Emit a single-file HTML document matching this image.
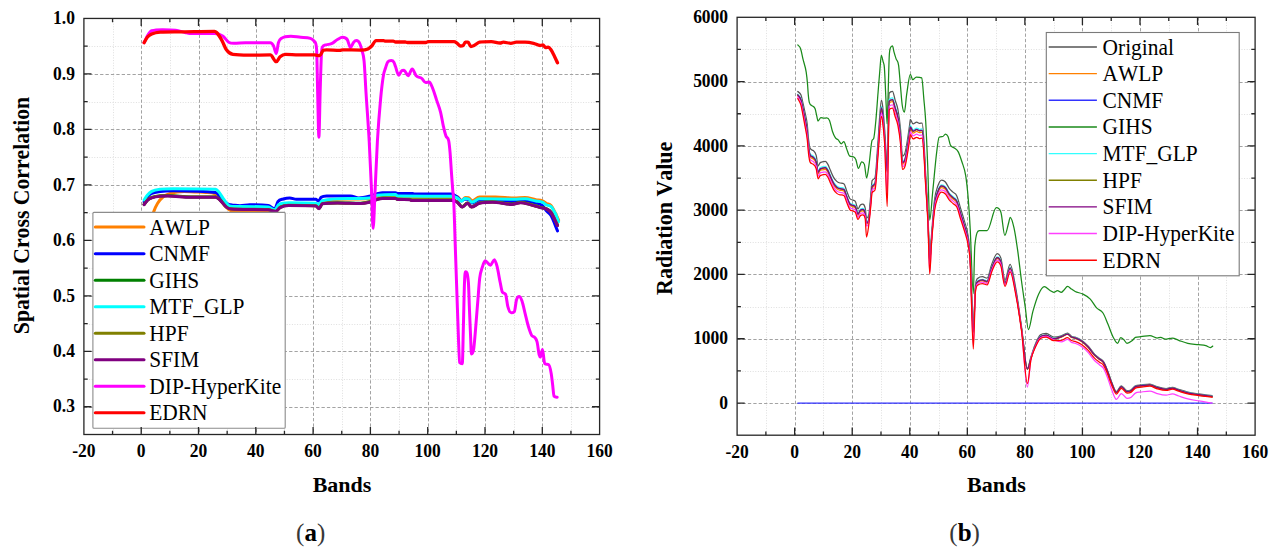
<!DOCTYPE html><html><head><meta charset="utf-8"><title>Spectral curves</title><style>html,body{margin:0;padding:0;background:#fff;}body{width:1274px;height:554px;overflow:hidden;}svg{display:block;}</style></head><body>
<svg width="1274" height="554" viewBox="0 0 1274 554" font-family="'Liberation Serif', serif" fill="#000" style="font-kerning:none">
<rect width="1274" height="554" fill="#fff"/>
<g id="left">
<line x1="113.5" y1="18.45" x2="113.5" y2="434.5" stroke="#dfdfdf" stroke-width="1" stroke-dasharray="1 1.6"/>
<line x1="170.5" y1="18.45" x2="170.5" y2="434.5" stroke="#dfdfdf" stroke-width="1" stroke-dasharray="1 1.6"/>
<line x1="227.5" y1="18.45" x2="227.5" y2="434.5" stroke="#dfdfdf" stroke-width="1" stroke-dasharray="1 1.6"/>
<line x1="284.5" y1="18.45" x2="284.5" y2="434.5" stroke="#dfdfdf" stroke-width="1" stroke-dasharray="1 1.6"/>
<line x1="342.5" y1="18.45" x2="342.5" y2="434.5" stroke="#dfdfdf" stroke-width="1" stroke-dasharray="1 1.6"/>
<line x1="399.5" y1="18.45" x2="399.5" y2="434.5" stroke="#dfdfdf" stroke-width="1" stroke-dasharray="1 1.6"/>
<line x1="456.5" y1="18.45" x2="456.5" y2="434.5" stroke="#dfdfdf" stroke-width="1" stroke-dasharray="1 1.6"/>
<line x1="514.5" y1="18.45" x2="514.5" y2="434.5" stroke="#dfdfdf" stroke-width="1" stroke-dasharray="1 1.6"/>
<line x1="571.5" y1="18.45" x2="571.5" y2="434.5" stroke="#dfdfdf" stroke-width="1" stroke-dasharray="1 1.6"/>
<line x1="83.9" y1="379.5" x2="599.6" y2="379.5" stroke="#dfdfdf" stroke-width="1" stroke-dasharray="1 1.6"/>
<line x1="83.9" y1="324.5" x2="599.6" y2="324.5" stroke="#dfdfdf" stroke-width="1" stroke-dasharray="1 1.6"/>
<line x1="83.9" y1="268.5" x2="599.6" y2="268.5" stroke="#dfdfdf" stroke-width="1" stroke-dasharray="1 1.6"/>
<line x1="83.9" y1="213.5" x2="599.6" y2="213.5" stroke="#dfdfdf" stroke-width="1" stroke-dasharray="1 1.6"/>
<line x1="83.9" y1="157.5" x2="599.6" y2="157.5" stroke="#dfdfdf" stroke-width="1" stroke-dasharray="1 1.6"/>
<line x1="83.9" y1="102.5" x2="599.6" y2="102.5" stroke="#dfdfdf" stroke-width="1" stroke-dasharray="1 1.6"/>
<line x1="83.9" y1="46.5" x2="599.6" y2="46.5" stroke="#dfdfdf" stroke-width="1" stroke-dasharray="1 1.6"/>
<line x1="141.5" y1="18.45" x2="141.5" y2="434.5" stroke="#a3a3a3" stroke-width="1" stroke-dasharray="3.3 2.1"/>
<line x1="199.5" y1="18.45" x2="199.5" y2="434.5" stroke="#a3a3a3" stroke-width="1" stroke-dasharray="3.3 2.1"/>
<line x1="256.5" y1="18.45" x2="256.5" y2="434.5" stroke="#a3a3a3" stroke-width="1" stroke-dasharray="3.3 2.1"/>
<line x1="313.5" y1="18.45" x2="313.5" y2="434.5" stroke="#a3a3a3" stroke-width="1" stroke-dasharray="3.3 2.1"/>
<line x1="370.5" y1="18.45" x2="370.5" y2="434.5" stroke="#a3a3a3" stroke-width="1" stroke-dasharray="3.3 2.1"/>
<line x1="428.5" y1="18.45" x2="428.5" y2="434.5" stroke="#a3a3a3" stroke-width="1" stroke-dasharray="3.3 2.1"/>
<line x1="485.5" y1="18.45" x2="485.5" y2="434.5" stroke="#a3a3a3" stroke-width="1" stroke-dasharray="3.3 2.1"/>
<line x1="542.5" y1="18.45" x2="542.5" y2="434.5" stroke="#a3a3a3" stroke-width="1" stroke-dasharray="3.3 2.1"/>
<line x1="83.9" y1="407.5" x2="599.6" y2="407.5" stroke="#a3a3a3" stroke-width="1" stroke-dasharray="3.3 2.1"/>
<line x1="83.9" y1="351.5" x2="599.6" y2="351.5" stroke="#a3a3a3" stroke-width="1" stroke-dasharray="3.3 2.1"/>
<line x1="83.9" y1="296.5" x2="599.6" y2="296.5" stroke="#a3a3a3" stroke-width="1" stroke-dasharray="3.3 2.1"/>
<line x1="83.9" y1="240.5" x2="599.6" y2="240.5" stroke="#a3a3a3" stroke-width="1" stroke-dasharray="3.3 2.1"/>
<line x1="83.9" y1="185.5" x2="599.6" y2="185.5" stroke="#a3a3a3" stroke-width="1" stroke-dasharray="3.3 2.1"/>
<line x1="83.9" y1="129.5" x2="599.6" y2="129.5" stroke="#a3a3a3" stroke-width="1" stroke-dasharray="3.3 2.1"/>
<line x1="83.9" y1="74.5" x2="599.6" y2="74.5" stroke="#a3a3a3" stroke-width="1" stroke-dasharray="3.3 2.1"/>
<path d="M146.5 240C147.83 234.67 149.17 229.25 150.5 224C151.53 219.93 152.57 215.13 153.6 212C154.9 208.07 156.2 205.68 157.5 203.5C159.5 200.15 161.5 198.12 163.5 196.5C166.07 194.42 168.63 193.74 171.2 193C175.53 191.75 179.87 191.4 184.2 191.4C191.4 191.4 198.6 192.1 205.8 192.5C208.7 192.66 211.6 192.51 214.5 193.5C216.17 194.07 217.83 196.04 219.5 198C221.33 200.16 223.17 203.94 225 206C226.9 208.13 228.8 209.95 230.7 210.5C233.8 211.39 236.9 211.33 240 211.4C249.4 211.6 258.8 211.46 268.2 211.8C270.37 211.88 272.53 212.5 274.7 212.5C276.5 212.5 278.3 207.71 280.1 206.5C282.97 204.57 285.83 204.5 288.7 204.5C297.73 204.5 306.77 204.5 315.8 205C316.9 205.06 318 206.5 319.1 206.5C320.17 206.5 321.23 201.79 322.3 201.5C331.53 199.01 340.77 199.08 350 199C356.5 198.95 363 199 369.5 198.5C372.03 198.31 374.57 196.21 377.1 196C383.23 195.5 389.37 195.5 395.5 195.5C396.23 195.5 396.97 196.99 397.7 197C415.73 197.2 433.77 197.2 451.8 197.2C453.6 197.2 455.4 196.8 457.2 196.8C458.67 196.8 460.13 200.4 461.6 200.4C462.87 200.4 464.13 197.4 465.4 197.4C466.5 197.4 467.6 197.4 468.7 197.7C469.77 197.99 470.83 200.8 471.9 200.8C474.43 200.8 476.97 197 479.5 197C484.9 197 490.3 197 495.7 197C501.87 197 508.03 198 514.2 198C517.8 198 521.4 197.5 525 197.5C528.6 197.5 532.2 199.03 535.8 199.7C537.97 200.1 540.13 199.94 542.3 200.8C543.73 201.37 545.17 202.72 546.6 203.5C548.07 204.29 549.53 203.89 551 205.5C552.43 207.08 553.87 210.23 555.3 213C556.4 215.13 557.5 217.67 558.6 220" fill="none" stroke="#ff8000" stroke-width="3.0" stroke-linejoin="round" stroke-linecap="round"/>
<path d="M144.1 202C145.17 200.33 146.23 198.26 147.3 197C148.77 195.27 150.23 194.25 151.7 193.5C154.57 192.03 157.43 191.91 160.3 191.5C164.63 190.88 168.97 190.8 173.3 190.8C187.4 190.8 201.5 190.8 215.6 192.5C216.67 192.63 217.73 193.96 218.8 195C220.23 196.39 221.67 198.58 223.1 200C224.93 201.82 226.77 203.83 228.6 204.5C229.67 204.89 230.73 204.81 231.8 204.9C234.53 205.14 237.27 205.7 240 205.7C243.23 205.7 246.47 204.7 249.7 204.7C255.87 204.7 262.03 204.7 268.2 205.5C270.37 205.78 272.53 209 274.7 209C275.77 209 276.83 203.18 277.9 201.7C279.7 199.2 281.5 199.6 283.3 199C285.47 198.28 287.63 197.9 289.8 197.9C291.97 197.9 294.13 199.3 296.3 199.3C302.8 199.3 309.3 199.3 315.8 199.3C316.7 199.3 317.6 201.1 318.5 201.1C319.4 201.1 320.3 197.95 321.2 197.3C323 196 324.8 196 326.6 196C334.57 196 342.53 196 350.5 196C353.23 196 355.97 197.9 358.7 197.9C362.3 197.9 365.9 197.04 369.5 196.2C372.4 195.52 375.3 194.19 378.2 193.5C379.63 193.16 381.07 192.8 382.5 192.8C386.83 192.8 391.17 192.8 395.5 192.8C396.23 192.8 396.97 193.5 397.7 193.5C402.73 193.5 407.77 193.5 412.8 193.5C413.53 193.5 414.27 194.1 415 194.1C427.27 194.1 439.53 193.9 451.8 193.9C453.6 193.9 455.4 195.67 457.2 197C458.67 198.09 460.13 201 461.6 201C462.67 201 463.73 199 464.8 199C466.1 199 467.4 199 468.7 199.5C469.77 199.91 470.83 203 471.9 203C474.43 203 476.97 200 479.5 200C484.9 200 490.3 200.27 495.7 200.5C501.87 200.76 508.03 201.5 514.2 201.5C517.8 201.5 521.4 201 525 201C528.6 201 532.2 201.97 535.8 203C537.97 203.62 540.13 203.7 542.3 205.5C543.73 206.69 545.17 209.35 546.6 211C548.07 212.69 549.53 213.01 551 215.5C553.17 219.17 555.33 225.77 557.5 230.9" fill="none" stroke="#0000ff" stroke-width="3.0" stroke-linejoin="round" stroke-linecap="round"/>
<path d="M144.1 204.3C145.17 202.9 146.23 201.12 147.3 200.1C148.77 198.7 150.23 198.08 151.7 197.5C154.57 196.37 157.43 196.03 160.3 195.8C162.83 195.6 165.37 195.6 167.9 195.6C175.5 195.6 183.1 196.9 190.7 196.9C199 196.9 207.3 196.9 215.6 196.9C217.03 196.9 218.47 198.37 219.9 199.6C222.07 201.46 224.23 205.04 226.4 206.7C227.83 207.8 229.27 208.49 230.7 208.6C237.13 209.1 243.57 209.08 250 209.1C256.07 209.12 262.13 209.1 268.2 209.4C270.7 209.52 273.2 211 275.7 211C277.17 211 278.63 208.01 280.1 207.2C282.97 205.61 285.83 205.1 288.7 205.1C297.73 205.1 306.77 205.1 315.8 205.6C316.9 205.66 318 208.3 319.1 208.3C320.17 208.3 321.23 203.55 322.3 203.4C327.37 202.7 332.43 202.7 337.5 202.7C345.27 202.7 353.03 203.2 360.8 203.2C363.7 203.2 366.6 202.55 369.5 201.8C372.03 201.15 374.57 199.81 377.1 199.1C378.9 198.6 380.7 198 382.5 198C386.83 198 391.17 198 395.5 198.2C396.23 198.23 396.97 199.07 397.7 199.1C401.67 199.25 405.63 199.17 409.6 199.3C410.3 199.32 411 200 411.7 200C425.07 200 438.43 200 451.8 200C453.6 200 455.4 200.62 457.2 201.8C458.87 202.89 460.53 206.7 462.2 206.7C464 206.7 465.8 202.9 467.6 202.9C468.87 202.9 470.13 206.7 471.4 206.7C474.1 206.7 476.8 203.59 479.5 202.9C483.83 201.8 488.17 201.8 492.5 201.8C499 201.8 505.5 204 512 204C514.9 204 517.8 202.3 520.7 202.3C523.57 202.3 526.43 203.29 529.3 204C532.9 204.89 536.5 206.22 540.1 207.2C542.27 207.79 544.43 207.72 546.6 208.8C548.07 209.53 549.53 210.08 551 212.1C553.17 215.08 555.33 220.77 557.5 225.1" fill="none" stroke="#008000" stroke-width="3.0" stroke-linejoin="round" stroke-linecap="round"/>
<path d="M144.1 200C145.17 198.4 146.23 196.46 147.3 195.2C148.77 193.47 150.23 192.22 151.7 191.4C154.57 189.8 157.43 189.53 160.3 189.2C164.63 188.7 168.97 188.7 173.3 188.7C187.4 188.7 201.5 188.7 215.6 189.2C216.67 189.24 217.73 190.64 218.8 191.9C220.23 193.59 221.67 196.39 223.1 198.4C224.93 200.97 226.77 204.22 228.6 205.5C230.03 206.5 231.47 206.5 232.9 206.5C235.27 206.5 237.63 206.5 240 206.5C249.4 206.5 258.8 206.5 268.2 207.1C270.37 207.24 272.53 209.8 274.7 209.8C276.13 209.8 277.57 205.15 279 204.4C282.23 202.7 285.47 202.7 288.7 202.7C297.73 202.7 306.77 202.7 315.8 203.3C316.7 203.36 317.6 204.4 318.5 204.4C319.77 204.4 321.03 200.9 322.3 200.6C331.53 198.41 340.77 198.49 350 198.4C356.5 198.34 363 198.4 369.5 197.9C372.03 197.71 374.57 195.45 377.1 195.2C383.23 194.6 389.37 194.6 395.5 194.6C396.23 194.6 396.97 195.99 397.7 196C415.73 196.18 433.77 196.12 451.8 196.2C453.6 196.21 455.4 196.86 457.2 197.8C458.67 198.57 460.13 201.1 461.6 201.1C462.67 201.1 463.73 198.4 464.8 198.4C466.1 198.4 467.4 198.4 468.7 199C469.77 199.49 470.83 202.2 471.9 202.2C474.43 202.2 476.97 198.8 479.5 198.8C491.07 198.8 502.63 199.2 514.2 199.2C517.8 199.2 521.4 198.8 525 198.8C528.6 198.8 532.2 200.3 535.8 201C537.97 201.42 540.13 201.29 542.3 202.2C543.73 202.8 545.17 204.34 546.6 205C548.07 205.67 549.53 205.16 551 206.5C552.43 207.81 553.87 210.55 555.3 213.5C556.4 215.76 557.5 218.97 558.6 221.7" fill="none" stroke="#00ffff" stroke-width="3.0" stroke-linejoin="round" stroke-linecap="round"/>
<path d="M144.1 204.5C145.17 203.1 146.23 201.32 147.3 200.3C148.77 198.9 150.23 198.28 151.7 197.7C154.57 196.57 157.43 196.23 160.3 196C162.83 195.8 165.37 195.8 167.9 195.8C175.5 195.8 183.1 197.1 190.7 197.1C199 197.1 207.3 197.1 215.6 197.1C217.03 197.1 218.47 198.57 219.9 199.8C222.07 201.66 224.23 205.24 226.4 206.9C227.83 208 229.27 208.69 230.7 208.8C237.13 209.3 243.57 209.28 250 209.3C256.07 209.32 262.13 209.3 268.2 209.6C270.7 209.72 273.2 211.2 275.7 211.2C277.17 211.2 278.63 208.21 280.1 207.4C282.97 205.81 285.83 205.3 288.7 205.3C297.73 205.3 306.77 205.3 315.8 205.8C316.9 205.86 318 208.5 319.1 208.5C320.17 208.5 321.23 203.75 322.3 203.6C327.37 202.9 332.43 202.9 337.5 202.9C345.27 202.9 353.03 203.4 360.8 203.4C363.7 203.4 366.6 202.75 369.5 202C372.03 201.35 374.57 200.01 377.1 199.3C378.9 198.8 380.7 198.2 382.5 198.2C386.83 198.2 391.17 198.2 395.5 198.4C396.23 198.43 396.97 199.27 397.7 199.3C401.67 199.45 405.63 199.37 409.6 199.5C410.3 199.52 411 200.2 411.7 200.2C425.07 200.2 438.43 200.2 451.8 200.2C453.6 200.2 455.4 200.82 457.2 202C458.87 203.09 460.53 206.9 462.2 206.9C464 206.9 465.8 203.1 467.6 203.1C468.87 203.1 470.13 206.9 471.4 206.9C474.1 206.9 476.8 203.79 479.5 203.1C483.83 202 488.17 202 492.5 202C499 202 505.5 204.2 512 204.2C514.9 204.2 517.8 202.5 520.7 202.5C523.57 202.5 526.43 203.49 529.3 204.2C532.9 205.09 536.5 206.42 540.1 207.4C542.27 207.99 544.43 207.92 546.6 209C548.07 209.73 549.53 210.28 551 212.3C553.17 215.28 555.33 220.97 557.5 225.3" fill="none" stroke="#808000" stroke-width="3.0" stroke-linejoin="round" stroke-linecap="round"/>
<path d="M144.1 204.7C145.17 203.3 146.23 201.52 147.3 200.5C148.77 199.1 150.23 198.48 151.7 197.9C154.57 196.77 157.43 196.43 160.3 196.2C162.83 196 165.37 196 167.9 196C175.5 196 183.1 197.3 190.7 197.3C199 197.3 207.3 197.3 215.6 197.3C217.03 197.3 218.47 198.77 219.9 200C222.07 201.86 224.23 205.44 226.4 207.1C227.83 208.2 229.27 208.89 230.7 209C237.13 209.5 243.57 209.48 250 209.5C256.07 209.52 262.13 209.5 268.2 209.8C270.7 209.92 273.2 211.4 275.7 211.4C277.17 211.4 278.63 208.41 280.1 207.6C282.97 206.01 285.83 205.5 288.7 205.5C297.73 205.5 306.77 205.5 315.8 206C316.9 206.06 318 208.7 319.1 208.7C320.17 208.7 321.23 203.95 322.3 203.8C327.37 203.1 332.43 203.1 337.5 203.1C345.27 203.1 353.03 203.6 360.8 203.6C363.7 203.6 366.6 202.95 369.5 202.2C372.03 201.55 374.57 200.21 377.1 199.5C378.9 199 380.7 198.4 382.5 198.4C386.83 198.4 391.17 198.4 395.5 198.6C396.23 198.63 396.97 199.47 397.7 199.5C401.67 199.65 405.63 199.57 409.6 199.7C410.3 199.72 411 200.4 411.7 200.4C425.07 200.4 438.43 200.4 451.8 200.4C453.6 200.4 455.4 201.02 457.2 202.2C458.87 203.29 460.53 207.1 462.2 207.1C464 207.1 465.8 203.3 467.6 203.3C468.87 203.3 470.13 207.1 471.4 207.1C474.1 207.1 476.8 203.99 479.5 203.3C483.83 202.2 488.17 202.2 492.5 202.2C499 202.2 505.5 204.4 512 204.4C514.9 204.4 517.8 202.7 520.7 202.7C523.57 202.7 526.43 203.69 529.3 204.4C532.9 205.29 536.5 206.62 540.1 207.6C542.27 208.19 544.43 208.12 546.6 209.2C548.07 209.93 549.53 210.48 551 212.5C553.17 215.48 555.33 221.17 557.5 225.5" fill="none" stroke="#800080" stroke-width="3.0" stroke-linejoin="round" stroke-linecap="round"/>
<path d="M144.1 42.7C145.17 40.47 146.23 37.75 147.3 36C148.77 33.6 150.23 31.25 151.7 30.8C155.3 29.7 158.9 29.7 162.5 29.7C166.83 29.7 171.17 29.7 175.5 30.3C178.67 30.74 181.83 31.79 185 32.5C186.53 32.84 188.07 33.5 189.6 33.5C197.9 33.5 206.2 33.5 214.5 33.5C217.37 33.5 220.23 34.19 223.1 36.2C224.93 37.49 226.77 41.08 228.6 42.2C230.4 43.3 232.2 43.3 234 43.3C237.8 43.3 241.6 42.7 245.4 42.7C253.7 42.7 262 42.7 270.3 42.7C271.4 42.7 272.5 43.9 273.6 46C274.5 47.72 275.4 53.6 276.3 53.6C277 53.6 277.7 45.05 278.4 42.7C279.33 39.56 280.27 39.04 281.2 38.4C284.43 36.2 287.67 36.2 290.9 36.2C294.17 36.2 297.43 37.02 300.7 37.3C303.93 37.57 307.17 37.37 310.4 38.4C311.83 38.86 313.27 39.98 314.7 41.7C315.33 42.46 315.97 41.74 316.6 49.2C316.93 53.13 317.27 77.15 317.6 90C318.03 106.71 318.47 137.2 318.9 137.2C319.33 137.2 319.77 104.19 320.2 90C320.6 76.91 321 62.59 321.4 55C321.7 49.31 322 47.7 322.3 47.1C323.4 44.91 324.5 45.11 325.6 44.9C327.77 44.48 329.93 44.33 332.1 43.3C333.9 42.45 335.7 40.54 337.5 39.5C339.13 38.56 340.77 37.3 342.4 37.3C344 37.3 345.6 37.3 347.2 39.5C348.3 41.01 349.4 47.6 350.5 47.6C351.5 47.6 352.5 43.67 353.5 42.5C354.5 41.33 355.5 40.6 356.5 40.6C357.57 40.6 358.63 41.15 359.7 43.3C360.43 44.78 361.17 47.32 361.9 50.3C362.63 53.28 363.37 53.34 364.1 61.2C364.73 67.99 365.37 82.46 366 92.5C367.07 109.4 368.13 121.77 369.2 141.2C369.97 155.17 370.73 172.69 371.5 190C372.03 202.04 372.57 228.3 373.1 228.3C373.77 228.3 374.43 203.46 375.1 190C375.87 174.53 376.63 154.39 377.4 141.2C378.47 122.85 379.53 110.45 380.6 99C381.57 88.63 382.53 80.69 383.5 75C384.17 71.07 384.83 70.04 385.5 68C386.3 65.55 387.1 62.5 387.9 61.7C389 60.6 390.1 60.6 391.2 60.6C392.1 60.6 393 60.7 393.9 62.2C394.43 63.09 394.97 65.15 395.5 66.6C396.57 69.5 397.63 75.2 398.7 75.2C399.8 75.2 400.9 70.56 402 70.4C402.7 70.3 403.4 70.3 404.1 70.3C405.43 70.3 406.77 75.7 408.1 75.7C409.47 75.7 410.83 69 412.2 69C413.53 69 414.87 74.26 416.2 75.7C418.03 77.69 419.87 77.01 421.7 78.4C423.03 79.41 424.37 82.5 425.7 82.5C426.87 82.5 428.03 82 429.2 82C430.3 82 431.4 85.28 432.5 87.9C433.87 91.16 435.23 95.98 436.6 100.1C437.93 104.12 439.27 106.93 440.6 112.3C441.5 115.92 442.4 121.83 443.3 125.8C444.2 129.77 445.1 133.95 446 136.1C446.9 138.25 447.8 136.64 448.7 140.7C449.17 142.81 449.63 147.46 450.1 152.9C450.53 157.95 450.97 165.81 451.4 171.9C451.87 178.46 452.33 185.26 452.8 190.8C453.1 194.36 453.4 194.05 453.7 200C454.27 211.23 454.83 233.49 455.4 250C455.9 264.57 456.4 278.87 456.9 293.3C457.4 307.73 457.9 324.38 458.4 336.6C458.83 347.19 459.27 362.05 459.7 362.6C460.57 363.7 461.43 363.7 462.3 363.7C462.67 363.7 463.03 339.33 463.4 325.8C463.77 312.27 464.13 291.52 464.5 282.5C464.87 273.48 465.23 271.7 465.6 271.7C466.53 271.7 467.47 271.7 468.4 282.5C468.77 286.74 469.13 301.58 469.5 310.6C469.87 319.62 470.23 328.28 470.6 336.6C470.87 342.65 471.13 354 471.4 354C472.13 354 472.87 354 473.6 349.6C474.17 346.2 474.73 338.73 475.3 332.3C476.17 322.47 477.03 310.42 477.9 299.8C478.5 292.45 479.1 283.06 479.7 278.2C480.57 271.18 481.43 270.12 482.3 267.3C483.23 264.26 484.17 260.8 485.1 260.8C486.9 260.8 488.7 265.2 490.5 265.2C491.8 265.2 493.1 259.7 494.4 259.7C495.27 259.7 496.13 262.91 497 266.2C498.07 270.25 499.13 277.43 500.2 282.5C500.93 285.98 501.67 291.23 502.4 292.2C503.47 293.61 504.53 292.71 505.6 294.4C506.33 295.56 507.07 303.59 507.8 306.3C508.9 310.36 510 312.8 511.1 312.8C512.17 312.8 513.23 312.8 514.3 311.7C515.03 310.94 515.77 302.25 516.5 299.8C517.37 296.91 518.23 296.5 519.1 296.5C520.03 296.5 520.97 298.24 521.9 300.8C523 303.81 524.1 309.35 525.2 313.8C525.9 316.63 526.6 319.84 527.3 322.5C528.03 325.29 528.77 327.93 529.5 330.1C530.23 332.27 530.97 334.4 531.7 335.5C532.77 337.1 533.83 336.24 534.9 337.6C535.63 338.54 536.37 339 537.1 342C537.8 344.87 538.5 352.17 539.2 355C539.57 356.48 539.93 357.1 540.3 357.1C541.03 357.1 541.77 349.6 542.5 349.6C543.23 349.6 543.97 363.06 544.7 363.6C546 364.57 547.3 364.17 548.6 364.7C549.47 365.05 550.33 368.51 551.2 373.4C551.7 376.22 552.2 381.24 552.7 385.3C553.13 388.82 553.57 395.65 554 396.1C555.07 397.2 556.13 397.11 557.2 397.2" fill="none" stroke="#ff00ff" stroke-width="3.0" stroke-linejoin="round" stroke-linecap="round"/>
<path d="M144.1 42.7C145.17 40.9 146.23 38.59 147.3 37.3C148.77 35.53 150.23 34.8 151.7 34.1C154.57 32.74 157.43 32.35 160.3 32.2C166.1 31.9 171.9 31.94 177.7 31.9C189.97 31.82 202.23 31.4 214.5 31.4C215.2 31.4 215.9 31.79 216.6 32.5C218.4 34.32 220.2 37.37 222 40.6C223.47 43.23 224.93 47.75 226.4 49.8C228.57 52.83 230.73 54.07 232.9 54.4C238.17 55.2 243.43 55.2 248.7 55.2C255.9 55.2 263.1 54.9 270.3 54.9C272.3 54.9 274.3 61.7 276.3 61.7C277.57 61.7 278.83 57.9 280.1 56.8C281.9 55.24 283.7 54.4 285.5 54.4C289.83 54.4 294.17 54.9 298.5 54.9C303.9 54.9 309.3 54.9 314.7 54.9C316.33 54.9 317.97 55.7 319.6 55.7C320.87 55.7 322.13 50.89 323.4 50.3C324.47 49.8 325.53 49.8 326.6 49.8C330.93 49.8 335.27 50.3 339.6 50.3C340.7 50.3 341.8 49.8 342.9 49.8C348.87 49.8 354.83 50.1 360.8 50.1C363.17 50.1 365.53 50.1 367.9 49C369.17 48.41 370.43 47.3 371.7 46C373.13 44.53 374.57 40.6 376 40.6C378.53 40.6 381.07 40.6 383.6 40.6C384.3 40.6 385 41.2 385.7 41.2C388.23 41.2 390.77 41.2 393.3 41.2C394.03 41.2 394.77 42 395.5 42C398.73 42 401.97 42 405.2 42C405.93 42 406.67 42.5 407.4 42.5C413.53 42.5 419.67 42.5 425.8 42.5C426.53 42.5 427.27 41.7 428 41.7C436.67 41.7 445.33 41.7 454 41.7C455.07 41.7 456.13 42.6 457.2 43.3C458.3 44.02 459.4 46 460.5 46C461.4 46 462.3 46 463.2 45.5C463.9 45.11 464.6 42.2 465.3 42.2C466.23 42.2 467.17 42.2 468.1 42.2C469 42.2 469.9 46.5 470.8 46.5C471.9 46.5 473 46 474.1 45.5C475.9 44.68 477.7 42.43 479.5 42.2C483.47 41.7 487.43 41.7 491.4 41.7C494.3 41.7 497.2 43 500.1 43C501.17 43 502.23 42.2 503.3 42.2C505.83 42.2 508.37 43.3 510.9 43.3C512.7 43.3 514.5 42.2 516.3 42.2C519.2 42.2 522.1 42.2 525 42.2C527.87 42.2 530.73 42.63 533.6 43.3C535.77 43.81 537.93 45.5 540.1 45.5C541.03 45.5 541.97 44.9 542.9 44.9C543.8 44.9 544.7 47.6 545.6 47.6C546.5 47.6 547.4 47.1 548.3 47.1C549.2 47.1 550.1 48.52 551 49.8C552.07 51.32 553.13 53.57 554.2 55.7C555.3 57.9 556.4 60.43 557.5 62.8" fill="none" stroke="#ff0000" stroke-width="3.3" stroke-linejoin="round" stroke-linecap="round"/>
<rect x="92.9" y="212.4" width="192.3" height="215.8" fill="#fff" stroke="#8c8c8c" stroke-width="1.1" rx="1"/>
<line x1="95.3" y1="227.1" x2="144" y2="227.1" stroke="#ff8000" stroke-width="3" stroke-linecap="round"/>
<text transform="translate(149.3,234.5) scale(1,1.06)" font-size="21.4">AWLP</text>
<line x1="95.3" y1="253.63" x2="144" y2="253.63" stroke="#0000ff" stroke-width="3" stroke-linecap="round"/>
<text transform="translate(149.3,261.03) scale(1,1.06)" font-size="21.4">CNMF</text>
<line x1="95.3" y1="280.16" x2="144" y2="280.16" stroke="#008000" stroke-width="3" stroke-linecap="round"/>
<text transform="translate(149.3,287.56) scale(1,1.06)" font-size="21.4">GIHS</text>
<line x1="95.3" y1="306.69" x2="144" y2="306.69" stroke="#00ffff" stroke-width="3" stroke-linecap="round"/>
<text transform="translate(149.3,314.09) scale(1,1.06)" font-size="21.4">MTF_GLP</text>
<line x1="95.3" y1="333.22" x2="144" y2="333.22" stroke="#808000" stroke-width="3" stroke-linecap="round"/>
<text transform="translate(149.3,340.62) scale(1,1.06)" font-size="21.4">HPF</text>
<line x1="95.3" y1="359.75" x2="144" y2="359.75" stroke="#800080" stroke-width="3" stroke-linecap="round"/>
<text transform="translate(149.3,367.15) scale(1,1.06)" font-size="21.4">SFIM</text>
<line x1="95.3" y1="386.28" x2="144" y2="386.28" stroke="#ff00ff" stroke-width="3" stroke-linecap="round"/>
<text transform="translate(149.3,393.68) scale(1,1.06)" font-size="21.4">DIP-HyperKite</text>
<line x1="95.3" y1="412.81" x2="144" y2="412.81" stroke="#ff0000" stroke-width="3" stroke-linecap="round"/>
<text transform="translate(149.3,420.21) scale(1,1.06)" font-size="21.4">EDRN</text>
<path d="M141.2 434.5V426.9M141.2 18.45V26.05M198.5 434.5V426.9M198.5 18.45V26.05M255.8 434.5V426.9M255.8 18.45V26.05M313.1 434.5V426.9M313.1 18.45V26.05M370.4 434.5V426.9M370.4 18.45V26.05M427.7 434.5V426.9M427.7 18.45V26.05M485 434.5V426.9M485 18.45V26.05M542.3 434.5V426.9M542.3 18.45V26.05M112.55 434.5V430.7M112.55 18.45V22.25M169.85 434.5V430.7M169.85 18.45V22.25M227.15 434.5V430.7M227.15 18.45V22.25M284.45 434.5V430.7M284.45 18.45V22.25M341.75 434.5V430.7M341.75 18.45V22.25M399.05 434.5V430.7M399.05 18.45V22.25M456.35 434.5V430.7M456.35 18.45V22.25M513.65 434.5V430.7M513.65 18.45V22.25M570.95 434.5V430.7M570.95 18.45V22.25M83.9 406.76H91.5M599.6 406.76H592M83.9 351.29H91.5M599.6 351.29H592M83.9 295.82H91.5M599.6 295.82H592M83.9 240.34H91.5M599.6 240.34H592M83.9 184.87H91.5M599.6 184.87H592M83.9 129.4H91.5M599.6 129.4H592M83.9 73.92H91.5M599.6 73.92H592M83.9 379.03H87.7M599.6 379.03H595.8M83.9 323.55H87.7M599.6 323.55H595.8M83.9 268.08H87.7M599.6 268.08H595.8M83.9 212.61H87.7M599.6 212.61H595.8M83.9 157.13H87.7M599.6 157.13H595.8M83.9 101.66H87.7M599.6 101.66H595.8M83.9 46.19H87.7M599.6 46.19H595.8" stroke="#262626" stroke-width="1.3" fill="none"/>
<rect x="83.9" y="18.45" width="515.7" height="416.05" fill="none" stroke="#262626" stroke-width="1.3"/>
<text transform="translate(83.9,456.8) scale(1,1.03)" text-anchor="middle" font-size="17.5" font-weight="bold">-20</text>
<text transform="translate(141.2,456.8) scale(1,1.03)" text-anchor="middle" font-size="17.5" font-weight="bold">0</text>
<text transform="translate(198.5,456.8) scale(1,1.03)" text-anchor="middle" font-size="17.5" font-weight="bold">20</text>
<text transform="translate(255.8,456.8) scale(1,1.03)" text-anchor="middle" font-size="17.5" font-weight="bold">40</text>
<text transform="translate(313.1,456.8) scale(1,1.03)" text-anchor="middle" font-size="17.5" font-weight="bold">60</text>
<text transform="translate(370.4,456.8) scale(1,1.03)" text-anchor="middle" font-size="17.5" font-weight="bold">80</text>
<text transform="translate(427.7,456.8) scale(1,1.03)" text-anchor="middle" font-size="17.5" font-weight="bold">100</text>
<text transform="translate(485,456.8) scale(1,1.03)" text-anchor="middle" font-size="17.5" font-weight="bold">120</text>
<text transform="translate(542.3,456.8) scale(1,1.03)" text-anchor="middle" font-size="17.5" font-weight="bold">140</text>
<text transform="translate(599.6,456.8) scale(1,1.03)" text-anchor="middle" font-size="17.5" font-weight="bold">160</text>
<text transform="translate(74.9,412.46) scale(1,1.03)" text-anchor="end" font-size="17.5" font-weight="bold">0.3</text>
<text transform="translate(74.9,356.99) scale(1,1.03)" text-anchor="end" font-size="17.5" font-weight="bold">0.4</text>
<text transform="translate(74.9,301.52) scale(1,1.03)" text-anchor="end" font-size="17.5" font-weight="bold">0.5</text>
<text transform="translate(74.9,246.04) scale(1,1.03)" text-anchor="end" font-size="17.5" font-weight="bold">0.6</text>
<text transform="translate(74.9,190.57) scale(1,1.03)" text-anchor="end" font-size="17.5" font-weight="bold">0.7</text>
<text transform="translate(74.9,135.1) scale(1,1.03)" text-anchor="end" font-size="17.5" font-weight="bold">0.8</text>
<text transform="translate(74.9,79.62) scale(1,1.03)" text-anchor="end" font-size="17.5" font-weight="bold">0.9</text>
<text transform="translate(74.9,24.15) scale(1,1.03)" text-anchor="end" font-size="17.5" font-weight="bold">1.0</text>
<text x="342" y="491.5" text-anchor="middle" font-size="22" font-weight="bold">Bands</text>
<text transform="translate(29.4,215.5) rotate(-90) scale(1,1.05)" text-anchor="middle" font-size="21.7" font-weight="bold">Spatial Cross Correlation</text>
<text x="310.7" y="541.3" text-anchor="middle" font-size="25" fill="#383838">(<tspan font-weight="bold" fill="#000">a</tspan>)</text>
</g>
<g id="right">
<line x1="766.5" y1="17.3" x2="766.5" y2="435.2" stroke="#dfdfdf" stroke-width="1" stroke-dasharray="1 1.6"/>
<line x1="823.5" y1="17.3" x2="823.5" y2="435.2" stroke="#dfdfdf" stroke-width="1" stroke-dasharray="1 1.6"/>
<line x1="881.5" y1="17.3" x2="881.5" y2="435.2" stroke="#dfdfdf" stroke-width="1" stroke-dasharray="1 1.6"/>
<line x1="939.5" y1="17.3" x2="939.5" y2="435.2" stroke="#dfdfdf" stroke-width="1" stroke-dasharray="1 1.6"/>
<line x1="996.5" y1="17.3" x2="996.5" y2="435.2" stroke="#dfdfdf" stroke-width="1" stroke-dasharray="1 1.6"/>
<line x1="1054.5" y1="17.3" x2="1054.5" y2="435.2" stroke="#dfdfdf" stroke-width="1" stroke-dasharray="1 1.6"/>
<line x1="1111.5" y1="17.3" x2="1111.5" y2="435.2" stroke="#dfdfdf" stroke-width="1" stroke-dasharray="1 1.6"/>
<line x1="1169.5" y1="17.3" x2="1169.5" y2="435.2" stroke="#dfdfdf" stroke-width="1" stroke-dasharray="1 1.6"/>
<line x1="1226.5" y1="17.3" x2="1226.5" y2="435.2" stroke="#dfdfdf" stroke-width="1" stroke-dasharray="1 1.6"/>
<line x1="737.1" y1="371.5" x2="1255.1" y2="371.5" stroke="#dfdfdf" stroke-width="1" stroke-dasharray="1 1.6"/>
<line x1="737.1" y1="307.5" x2="1255.1" y2="307.5" stroke="#dfdfdf" stroke-width="1" stroke-dasharray="1 1.6"/>
<line x1="737.1" y1="242.5" x2="1255.1" y2="242.5" stroke="#dfdfdf" stroke-width="1" stroke-dasharray="1 1.6"/>
<line x1="737.1" y1="178.5" x2="1255.1" y2="178.5" stroke="#dfdfdf" stroke-width="1" stroke-dasharray="1 1.6"/>
<line x1="737.1" y1="114.5" x2="1255.1" y2="114.5" stroke="#dfdfdf" stroke-width="1" stroke-dasharray="1 1.6"/>
<line x1="737.1" y1="49.5" x2="1255.1" y2="49.5" stroke="#dfdfdf" stroke-width="1" stroke-dasharray="1 1.6"/>
<line x1="795.5" y1="17.3" x2="795.5" y2="435.2" stroke="#a3a3a3" stroke-width="1" stroke-dasharray="3.3 2.1"/>
<line x1="852.5" y1="17.3" x2="852.5" y2="435.2" stroke="#a3a3a3" stroke-width="1" stroke-dasharray="3.3 2.1"/>
<line x1="910.5" y1="17.3" x2="910.5" y2="435.2" stroke="#a3a3a3" stroke-width="1" stroke-dasharray="3.3 2.1"/>
<line x1="967.5" y1="17.3" x2="967.5" y2="435.2" stroke="#a3a3a3" stroke-width="1" stroke-dasharray="3.3 2.1"/>
<line x1="1025.5" y1="17.3" x2="1025.5" y2="435.2" stroke="#a3a3a3" stroke-width="1" stroke-dasharray="3.3 2.1"/>
<line x1="1082.5" y1="17.3" x2="1082.5" y2="435.2" stroke="#a3a3a3" stroke-width="1" stroke-dasharray="3.3 2.1"/>
<line x1="1140.5" y1="17.3" x2="1140.5" y2="435.2" stroke="#a3a3a3" stroke-width="1" stroke-dasharray="3.3 2.1"/>
<line x1="1198.5" y1="17.3" x2="1198.5" y2="435.2" stroke="#a3a3a3" stroke-width="1" stroke-dasharray="3.3 2.1"/>
<line x1="737.1" y1="403.5" x2="1255.1" y2="403.5" stroke="#a3a3a3" stroke-width="1" stroke-dasharray="3.3 2.1"/>
<line x1="737.1" y1="339.5" x2="1255.1" y2="339.5" stroke="#a3a3a3" stroke-width="1" stroke-dasharray="3.3 2.1"/>
<line x1="737.1" y1="274.5" x2="1255.1" y2="274.5" stroke="#a3a3a3" stroke-width="1" stroke-dasharray="3.3 2.1"/>
<line x1="737.1" y1="210.5" x2="1255.1" y2="210.5" stroke="#a3a3a3" stroke-width="1" stroke-dasharray="3.3 2.1"/>
<line x1="737.1" y1="146.5" x2="1255.1" y2="146.5" stroke="#a3a3a3" stroke-width="1" stroke-dasharray="3.3 2.1"/>
<line x1="737.1" y1="82.5" x2="1255.1" y2="82.5" stroke="#a3a3a3" stroke-width="1" stroke-dasharray="3.3 2.1"/>
<path d="M797.8 91.5C798.87 92.7 799.93 92.37 801 95.1C801.6 96.64 802.2 99.72 802.8 102.3C803.53 105.45 804.27 108.78 805 112.4C805.73 116.02 806.47 117.9 807.2 124C807.67 127.88 808.13 135.88 808.6 139.9C809.07 143.92 809.53 147.07 810 148.1C811.07 150.45 812.13 149.76 813.2 150.6C814.2 151.39 815.2 151.81 816.2 155.4C816.83 157.67 817.47 166 818.1 166C818.77 166 819.43 163.38 820.1 162.7C820.8 161.99 821.5 162.09 822.2 161.9C823.27 161.61 824.33 161.4 825.4 161.4C826.23 161.4 827.07 162.91 827.9 164.4C828.7 165.83 829.5 168.27 830.3 170.1C831.4 172.62 832.5 175.5 833.6 177.4C834.67 179.25 835.73 180.47 836.8 181.4C837.9 182.35 839 182.83 840.1 183C841.43 183.21 842.77 183.03 844.1 183.9C844.9 184.42 845.7 188.33 846.5 190.4C847.6 193.24 848.7 196.96 849.8 198.5C850.87 199.99 851.93 199.52 853 200.1C853.83 200.55 854.67 200.17 855.5 201.7C856.3 203.17 857.1 209 857.9 209C858.73 209 859.57 205.81 860.4 205C861.2 204.23 862 204.2 862.8 204.2C863.6 204.2 864.4 204.52 865.2 208.2C865.63 210.19 866.07 218 866.5 218C867.27 218 868.03 218 868.8 214.7C869.5 211.69 870.2 200.91 870.9 193.6C871.3 189.42 871.7 181.38 872.1 180.6C873.07 178.71 874.03 179.87 875 177.8C875.97 175.73 876.93 154.84 877.9 143.1C879.07 128.94 880.23 100 881.4 100C881.8 100 882.2 102.53 882.6 105.8C883.3 111.52 884 121.07 884.7 130C885.53 140.63 886.37 165 887.2 165C887.87 165 888.53 94.29 889.2 93.2C890.3 91.4 891.4 91.4 892.5 91.4C893.4 91.4 894.3 97.4 895.2 100.4C896.1 103.4 897 104.47 897.9 109.4C898.8 114.33 899.7 120.04 900.6 130C901.2 136.64 901.8 156.1 902.4 156.1C903.37 156.1 904.33 155.54 905.3 151.8C906.77 146.13 908.23 134.87 909.7 124.3C909.9 122.86 910.1 119.4 910.3 119.4C911.23 119.4 912.17 123.9 913.1 123.9C914.3 123.9 915.5 122.1 916.7 122.1C917.6 122.1 918.5 123.4 919.4 123.4C920.3 123.4 921.2 123 922.1 123C922.7 123 923.3 131.28 923.9 140C924.33 146.3 924.77 157.42 925.2 165.5C926.13 182.9 927.07 194.95 928 215C928.57 227.18 929.13 258 929.7 258C930.3 258 930.9 242.33 931.5 235C932.5 222.78 933.5 207.92 934.5 200C935.63 191.02 936.77 189.02 937.9 185.8C939.13 182.29 940.37 180.2 941.6 180.2C942.87 180.2 944.13 180.65 945.4 182C946.67 183.35 947.93 186.62 949.2 188.3C950.47 189.98 951.73 190.83 953 192.1C954.27 193.37 955.53 193.17 956.8 195.9C958.07 198.63 959.33 204.3 960.6 208.5C961.87 212.7 963.13 216.47 964.4 221.1C965.67 225.73 966.93 227.84 968.2 236.3C968.87 240.75 969.53 243.82 970.2 255C971.23 272.33 972.27 330 973.3 330C974.03 330 974.77 291.18 975.5 285C976.3 278.26 977.1 278.98 977.9 278.2C979.43 276.7 980.97 276.7 982.5 276.7C984.03 276.7 985.57 278.2 987.1 278.2C988.63 278.2 990.17 268.19 991.7 264.4C993.53 259.87 995.37 253.7 997.2 253.7C998.43 253.7 999.67 254.3 1000.9 258.3C1002.27 262.73 1003.63 279.8 1005 279.8C1006.7 279.8 1008.4 264.4 1010.1 264.4C1012 264.4 1013.9 278.25 1015.8 288.6C1017.7 298.95 1019.6 313.47 1021.5 326.5C1023.47 339.99 1025.43 368.2 1027.4 368.2C1028.6 368.2 1029.8 360.5 1031 356.8C1032.27 352.89 1033.53 348.48 1034.8 345.4C1036.7 340.78 1038.6 336.3 1040.5 334.8C1042.4 333.3 1044.3 333.3 1046.2 333.3C1048.73 333.3 1051.27 337.1 1053.8 337.1C1056.3 337.1 1058.8 336.64 1061.3 335.9C1063.4 335.28 1065.5 333.2 1067.6 333.2C1068.87 333.2 1070.13 335.54 1071.4 336.2C1072.6 336.82 1073.8 336.65 1075 337.1C1077.17 337.9 1079.33 338.82 1081.5 340.3C1083.67 341.78 1085.83 343.7 1088 346C1090.17 348.3 1092.33 351.84 1094.5 354.1C1096.13 355.8 1097.77 356.86 1099.4 358.2C1100.73 359.29 1102.07 359.4 1103.4 361.4C1104.77 363.45 1106.13 366.97 1107.5 370.4C1108.83 373.75 1110.17 378.48 1111.5 381.7C1113.13 385.64 1114.77 391.5 1116.4 391.5C1118.03 391.5 1119.67 385.8 1121.3 385.8C1123.2 385.8 1125.1 390.7 1127 390.7C1128.27 390.7 1129.53 390.69 1130.8 390C1132.33 389.16 1133.87 386.54 1135.4 385.8C1137.2 384.93 1139 385.11 1140.8 384.9C1143.83 384.54 1146.87 384 1149.9 384C1152.3 384 1154.7 386.01 1157.1 386.7C1160.1 387.56 1163.1 388.5 1166.1 388.5C1168.2 388.5 1170.3 387.3 1172.4 387.3C1174.5 387.3 1176.6 388.74 1178.7 389.4C1181.73 390.36 1184.77 391.4 1187.8 392.1C1191.4 392.93 1195 393.36 1198.6 393.9C1203.1 394.57 1207.6 395.1 1212.1 395.7" fill="none" stroke="#555555" stroke-width="1.25" stroke-linejoin="round" stroke-linecap="round"/>
<path d="M797.8 95.82C798.87 97.66 799.93 97.98 801 101.33C801.6 103.22 802.2 106.64 802.8 109.54C803.53 113.08 804.27 116.81 805 120.76C805.73 124.7 806.47 127.11 807.2 133.21C807.67 137.09 808.13 144.7 808.6 148.58C809.07 152.47 809.53 155.52 810 156.51C811.07 158.79 812.13 158.11 813.2 158.93C814.2 159.7 815.2 160.1 816.2 163.57C816.83 165.77 817.47 173.82 818.1 173.82C818.77 173.82 819.43 171.29 820.1 170.63C820.8 169.94 821.5 170.04 822.2 169.86C823.27 169.58 824.33 169.37 825.4 169.37C826.23 169.37 827.07 170.84 827.9 172.28C828.7 173.66 829.5 176.01 830.3 177.79C831.4 180.23 832.5 183.01 833.6 184.85C834.67 186.63 835.73 187.82 836.8 188.71C837.9 189.64 839 190.09 840.1 190.26C841.43 190.47 842.77 190.29 844.1 191.13C844.9 191.64 845.7 195.42 846.5 197.42C847.6 200.16 848.7 203.76 849.8 205.25C850.87 206.69 851.93 206.24 853 206.8C853.83 207.23 854.67 206.86 855.5 208.34C856.3 209.77 857.1 215.4 857.9 215.4C858.73 215.4 859.57 212.31 860.4 211.54C861.2 210.79 862 210.76 862.8 210.76C863.6 210.76 864.4 211.07 865.2 214.63C865.63 216.56 866.07 224.11 866.5 224.11C867.27 224.11 868.03 224.11 868.8 220.92C869.5 218 870.2 207.58 870.9 200.51C871.3 196.47 871.7 188.7 872.1 187.94C873.07 186.12 874.03 187.23 875 185.23C875.97 183.23 876.93 163.03 877.9 151.68C879.07 137.98 880.23 110 881.4 110C881.8 110 882.2 112.45 882.6 115.61C883.3 121.15 884 130.37 884.7 139.01C885.53 149.29 886.37 172.86 887.2 172.86C887.87 172.86 888.53 104.48 889.2 103.43C890.3 101.68 891.4 101.68 892.5 101.68C893.4 101.68 894.3 107.49 895.2 110.39C896.1 113.29 897 114.32 897.9 119.09C898.8 123.86 899.7 129.38 900.6 139.01C901.2 145.43 901.8 164.25 902.4 164.25C903.37 164.25 904.33 163.71 905.3 160.09C906.77 154.61 908.23 143.72 909.7 133.5C909.9 132.1 910.1 128.76 910.3 128.76C911.23 128.76 912.17 133.11 913.1 133.11C914.3 133.11 915.5 131.37 916.7 131.37C917.6 131.37 918.5 132.63 919.4 132.63C920.3 132.63 921.2 132.24 922.1 132.24C922.7 132.24 923.3 140.25 923.9 148.68C924.33 154.77 924.77 165.53 925.2 173.34C926.13 190.17 927.07 201.81 928 221.21C928.57 232.98 929.13 262.79 929.7 262.79C930.3 262.79 930.9 247.64 931.5 240.55C932.5 228.73 933.5 214.36 934.5 206.7C935.63 198.02 936.77 196.09 937.9 192.97C939.13 189.58 940.37 187.55 941.6 187.55C942.87 187.55 944.13 187.99 945.4 189.29C946.67 190.6 947.93 193.76 949.2 195.39C950.47 197.01 951.73 197.84 953 199.06C954.27 200.29 955.53 200.09 956.8 202.74C958.07 205.38 959.33 210.86 960.6 214.92C961.87 218.98 963.13 222.62 964.4 227.1C965.67 231.58 966.93 233.63 968.2 241.8C968.87 246.11 969.53 249.07 970.2 259.89C971.23 276.64 972.27 332.41 973.3 332.41C974.03 332.41 974.77 294.87 975.5 288.9C976.3 282.38 977.1 283.08 977.9 282.32C979.43 280.87 980.97 280.87 982.5 280.87C984.03 280.87 985.57 282.32 987.1 282.32C988.63 282.32 990.17 272.64 991.7 268.98C993.53 264.59 995.37 258.63 997.2 258.63C998.43 258.63 999.67 259.21 1000.9 263.08C1002.27 267.36 1003.63 283.87 1005 283.87C1006.7 283.87 1008.4 268.98 1010.1 268.98C1012 268.98 1013.9 282.37 1015.8 292.38C1017.7 302.39 1019.6 316.43 1021.5 329.03C1023.47 342.07 1025.43 369.35 1027.4 369.35C1028.6 369.35 1029.8 361.9 1031 358.33C1032.27 354.55 1033.53 350.28 1034.8 347.3C1036.7 342.84 1038.6 338.5 1040.5 337.05C1042.4 335.6 1044.3 335.6 1046.2 335.6C1048.73 335.6 1051.27 339.28 1053.8 339.28C1056.3 339.28 1058.8 338 1061.3 337.1C1063.4 336.35 1065.5 334.4 1067.6 334.4C1068.87 334.4 1070.13 336.74 1071.4 337.4C1072.6 338.02 1073.8 337.85 1075 338.3C1077.17 339.1 1079.33 340.02 1081.5 341.5C1083.67 342.98 1085.83 344.9 1088 347.2C1090.17 349.5 1092.33 353.04 1094.5 355.3C1096.13 357 1097.77 358.06 1099.4 359.4C1100.73 360.49 1102.07 360.6 1103.4 362.6C1104.77 364.65 1106.13 368.17 1107.5 371.6C1108.83 374.95 1110.17 379.68 1111.5 382.9C1113.13 386.84 1114.77 392.7 1116.4 392.7C1118.03 392.7 1119.67 387 1121.3 387C1123.2 387 1125.1 391.9 1127 391.9C1128.27 391.9 1129.53 391.89 1130.8 391.2C1132.33 390.36 1133.87 387.74 1135.4 387C1137.2 386.13 1139 386.31 1140.8 386.1C1143.83 385.74 1146.87 385.2 1149.9 385.2C1152.3 385.2 1154.7 387.21 1157.1 387.9C1160.1 388.76 1163.1 389.7 1166.1 389.7C1168.2 389.7 1170.3 388.5 1172.4 388.5C1174.5 388.5 1176.6 389.94 1178.7 390.6C1181.73 391.56 1184.77 392.6 1187.8 393.3C1191.4 394.13 1195 394.56 1198.6 395.1C1203.1 395.77 1207.6 396.3 1212.1 396.9" fill="none" stroke="#ff8000" stroke-width="1.25" stroke-linejoin="round" stroke-linecap="round"/>
<polyline points="797.8,403.05 1212.1,403.05" fill="none" stroke="#3333ff" stroke-width="1.25" stroke-linejoin="round" stroke-linecap="round"/>
<path d="M797.8 44.9C798.73 46.17 799.67 46.02 800.6 48.7C801.4 50.99 802.2 55.83 803 59.2C804.07 63.7 805.13 65.16 806.2 72.2C806.67 75.28 807.13 79.48 807.6 85C807.8 87.36 808 91.47 808.2 93.7C808.57 97.79 808.93 100.97 809.3 102.3C810.27 105.79 811.23 105.04 812.2 105.9C813.17 106.76 814.13 106.24 815.1 108.8C815.67 110.3 816.23 113.73 816.8 116.1C817.2 117.78 817.6 121 818 121C818.97 121 819.93 117.5 820.9 117.5C821.87 117.5 822.83 118.2 823.8 118.2C824.77 118.2 825.73 117.9 826.7 117.9C827.63 117.9 828.57 118.25 829.5 120.4C830.47 122.63 831.43 128.32 832.4 131.2C833.37 134.08 834.33 136.25 835.3 137.7C836.27 139.15 837.23 138.9 838.2 139.9C839.2 140.93 840.2 143.8 841.2 143.8C842.1 143.8 843 141.6 843.9 141.6C844.8 141.6 845.7 146.46 846.6 148.7C847.67 151.35 848.73 155.76 849.8 156.2C851.07 156.72 852.33 156.51 853.6 156.8C854.33 156.97 855.07 157.79 855.8 159.5C856.67 161.52 857.53 168.4 858.4 168.4C859.5 168.4 860.6 161.9 861.7 161.9C862.6 161.9 863.5 161.9 864.4 164.4C865.13 166.44 865.87 178 866.6 178C867.47 178 868.33 169.2 869.2 163.3C870.17 156.72 871.13 142.09 872.1 140.2C872.6 139.22 873.1 139.8 873.6 138.8C874.37 137.26 875.13 128.03 875.9 120C876.6 112.67 877.3 102 878 93.2C878.63 85.24 879.27 76.87 879.9 69.7C880.37 64.41 880.83 55.3 881.3 55.3C881.9 55.3 882.5 59.1 883.1 61.6C883.53 63.41 883.97 62.29 884.4 67.9C885 75.67 885.6 93.45 886.2 105.8C886.5 111.97 886.8 123.9 887.1 123.9C887.4 123.9 887.7 108 888 98.6C888.4 86.06 888.8 65.65 889.2 57.1C889.57 49.26 889.93 49.2 890.3 48.1C891.03 45.9 891.77 45.9 892.5 45.9C892.97 45.9 893.43 49.97 893.9 51.7C894.63 54.42 895.37 56.76 896.1 58.9C896.93 61.33 897.77 59.65 898.6 65.3C899.2 69.37 899.8 78.48 900.4 85.1C901 91.72 901.6 100.7 902.2 105C902.93 110.25 903.67 112.2 904.4 112.2C905.17 112.2 905.93 99.32 906.7 94.2C907.9 86.19 909.1 74.3 910.3 74.3C911.1 74.3 911.9 79.7 912.7 79.7C913.9 79.7 915.1 77 916.3 77C918.1 77 919.9 77 921.7 77.9C922.43 78.27 923.17 91.58 923.9 99.6C924.5 106.16 925.1 110.95 925.7 121.2C926.37 132.58 927.03 149.03 927.7 165.5C928.37 181.97 929.03 220 929.7 220C930.73 220 931.77 200.82 932.8 190.8C934.07 178.52 935.33 163.19 936.6 152.9C937.43 146.13 938.27 137.65 939.1 137.2C940.37 136.51 941.63 136.63 942.9 136.5C943.73 136.42 944.57 134 945.4 134C946.27 134 947.13 134.56 948 136.5C948.83 138.37 949.67 143.71 950.5 145.3C951.77 147.72 953.03 146.95 954.3 147.9C955.57 148.85 956.83 149.28 958.1 151.6C959.37 153.92 960.63 157.78 961.9 161.8C963.17 165.82 964.43 167.63 965.7 175.7C966.53 181.01 967.37 188.3 968.2 198.4C968.87 206.48 969.53 216.67 970.2 228.7C971.23 247.34 972.27 293.6 973.3 293.6C973.8 293.6 974.3 250.99 974.8 246C976.33 230.7 977.87 230.7 979.4 230.7C981.97 230.7 984.53 230.7 987.1 230.7C990.17 230.7 993.23 207.7 996.3 207.7C997.83 207.7 999.37 207.7 1000.9 212.3C1002.2 216.2 1003.5 235.4 1004.8 235.4C1006.07 235.4 1007.33 227.32 1008.6 223C1009.13 221.18 1009.67 217.3 1010.2 217.3C1011.47 217.3 1012.73 222.23 1014 227.9C1015.23 233.42 1016.47 241.98 1017.7 250.7C1018.97 259.65 1020.23 271.53 1021.5 281C1022.77 290.47 1024.03 298.59 1025.3 307.5C1026.33 314.77 1027.37 329.5 1028.4 329.5C1029.9 329.5 1031.4 316.58 1032.9 311.3C1034.8 304.61 1036.7 298.3 1038.6 294.2C1040.5 290.1 1042.4 286.7 1044.3 286.7C1046.2 286.7 1048.1 289.42 1050 290.5C1051.27 291.22 1052.53 292.3 1053.8 292.3C1055.03 292.3 1056.27 290.5 1057.5 290.5C1058.77 290.5 1060.03 292.3 1061.3 292.3C1062.13 292.3 1062.97 290.97 1063.8 290.2C1065.07 289.03 1066.33 286.4 1067.6 286.4C1068.87 286.4 1070.13 288.15 1071.4 289C1072.67 289.85 1073.93 290.87 1075.2 291.5C1077.7 292.74 1080.2 292.74 1082.7 294C1085.23 295.27 1087.77 296.48 1090.3 299.1C1092.4 301.27 1094.5 305.6 1096.6 307.9C1098.73 310.24 1100.87 309.74 1103 313C1104.67 315.55 1106.33 320.34 1108 324.3C1109.7 328.34 1111.4 333.69 1113.1 337C1114.6 339.92 1116.1 343.3 1117.6 343.3C1118.63 343.3 1119.67 337.7 1120.7 337.7C1121.7 337.7 1122.7 338.62 1123.7 339.5C1124.8 340.46 1125.9 343.3 1127 343.3C1128.67 343.3 1130.33 342.05 1132 340.8C1133.13 339.95 1134.27 337.83 1135.4 337.4C1137.2 336.72 1139 336.85 1140.8 336.7C1143.83 336.44 1146.87 335.6 1149.9 335.6C1152.3 335.6 1154.7 338 1157.1 338C1158.3 338 1159.5 337.4 1160.7 337.4C1162.2 337.4 1163.7 339.2 1165.2 339.2C1167.6 339.2 1170 338 1172.4 338C1174.5 338 1176.6 339.56 1178.7 340.3C1181.73 341.37 1184.77 342.7 1187.8 343.4C1191.4 344.23 1195 344.23 1198.6 344.7C1201 345.01 1203.4 345.05 1205.8 345.7C1207.3 346.1 1208.8 347.5 1210.3 347.5C1211.1 347.5 1211.9 346.57 1212.7 346.1" fill="none" stroke="#1a8a1a" stroke-width="1.25" stroke-linejoin="round" stroke-linecap="round"/>
<path d="M797.8 94.25C798.87 95.85 799.93 95.94 801 99.07C801.6 100.82 802.2 104.13 802.8 106.91C803.53 110.31 804.27 113.89 805 117.72C805.73 121.54 806.47 123.76 807.2 129.86C807.67 133.74 808.13 141.49 808.6 145.43C809.07 149.36 809.53 152.45 810 153.45C811.07 155.76 812.13 155.08 813.2 155.9C814.2 156.68 815.2 157.09 816.2 160.6C816.83 162.83 817.47 170.98 818.1 170.98C818.77 170.98 819.43 168.41 820.1 167.75C820.8 167.05 821.5 167.15 822.2 166.96C823.27 166.68 824.33 166.47 825.4 166.47C826.23 166.47 827.07 167.95 827.9 169.41C828.7 170.81 829.5 173.2 830.3 174.99C831.4 177.46 832.5 180.27 833.6 182.14C834.67 183.95 835.73 185.15 836.8 186.05C837.9 186.99 839 187.45 840.1 187.62C841.43 187.83 842.77 187.65 844.1 188.5C844.9 189.02 845.7 192.84 846.5 194.87C847.6 197.65 848.7 201.29 849.8 202.8C850.87 204.26 851.93 203.8 853 204.36C853.83 204.8 854.67 204.43 855.5 205.93C856.3 207.37 857.1 213.08 857.9 213.08C858.73 213.08 859.57 209.95 860.4 209.16C861.2 208.4 862 208.38 862.8 208.38C863.6 208.38 864.4 208.69 865.2 212.29C865.63 214.24 866.07 221.89 866.5 221.89C867.27 221.89 868.03 221.89 868.8 218.66C869.5 215.71 870.2 205.15 870.9 198C871.3 193.91 871.7 186.04 872.1 185.27C873.07 183.42 874.03 184.56 875 182.53C875.97 180.51 876.93 160.05 877.9 148.56C879.07 134.69 880.23 106.36 881.4 106.36C881.8 106.36 882.2 108.84 882.6 112.04C883.3 117.65 884 126.99 884.7 135.73C885.53 146.15 886.37 170 887.2 170C887.87 170 888.53 100.77 889.2 99.71C890.3 97.94 891.4 97.94 892.5 97.94C893.4 97.94 894.3 103.82 895.2 106.76C896.1 109.69 897 110.74 897.9 115.57C898.8 120.4 899.7 125.98 900.6 135.73C901.2 142.23 901.8 161.29 902.4 161.29C903.37 161.29 904.33 160.74 905.3 157.08C906.77 151.52 908.23 140.5 909.7 130.15C909.9 128.74 910.1 125.36 910.3 125.36C911.23 125.36 912.17 129.76 913.1 129.76C914.3 129.76 915.5 128 916.7 128C917.6 128 918.5 129.27 919.4 129.27C920.3 129.27 921.2 128.88 922.1 128.88C922.7 128.88 923.3 136.99 923.9 145.52C924.33 151.69 924.77 162.58 925.2 170.49C926.13 187.53 927.07 199.32 928 218.95C928.57 230.87 929.13 261.05 929.7 261.05C930.3 261.05 930.9 245.71 931.5 238.53C932.5 226.56 933.5 212.02 934.5 204.26C935.63 195.47 936.77 193.52 937.9 190.36C939.13 186.93 940.37 184.88 941.6 184.88C942.87 184.88 944.13 185.32 945.4 186.64C946.67 187.96 947.93 191.16 949.2 192.81C950.47 194.46 951.73 195.29 953 196.53C954.27 197.77 955.53 197.57 956.8 200.25C958.07 202.93 959.33 208.47 960.6 212.59C961.87 216.7 963.13 220.38 964.4 224.92C965.67 229.46 966.93 231.52 968.2 239.8C968.87 244.16 969.53 247.16 970.2 258.11C971.23 275.08 972.27 331.53 973.3 331.53C974.03 331.53 974.77 293.53 975.5 287.48C976.3 280.88 977.1 281.59 977.9 280.82C979.43 279.35 980.97 279.35 982.5 279.35C984.03 279.35 985.57 280.82 987.1 280.82C988.63 280.82 990.17 271.02 991.7 267.31C993.53 262.87 995.37 256.84 997.2 256.84C998.43 256.84 999.67 257.42 1000.9 261.34C1002.27 265.68 1003.63 282.39 1005 282.39C1006.7 282.39 1008.4 267.31 1010.1 267.31C1012 267.31 1013.9 280.87 1015.8 291C1017.7 301.14 1019.6 315.35 1021.5 328.11C1023.47 341.31 1025.43 368.93 1027.4 368.93C1028.6 368.93 1029.8 361.39 1031 357.77C1032.27 353.95 1033.53 349.62 1034.8 346.61C1036.7 342.09 1038.6 337.7 1040.5 336.23C1042.4 334.76 1044.3 334.76 1046.2 334.76C1048.73 334.76 1051.27 338.49 1053.8 338.49C1056.3 338.49 1058.8 337.37 1061.3 336.5C1063.4 335.77 1065.5 333.8 1067.6 333.8C1068.87 333.8 1070.13 336.14 1071.4 336.8C1072.6 337.42 1073.8 337.25 1075 337.7C1077.17 338.5 1079.33 339.42 1081.5 340.9C1083.67 342.38 1085.83 344.3 1088 346.6C1090.17 348.9 1092.33 352.44 1094.5 354.7C1096.13 356.4 1097.77 357.46 1099.4 358.8C1100.73 359.89 1102.07 360 1103.4 362C1104.77 364.05 1106.13 367.57 1107.5 371C1108.83 374.35 1110.17 379.08 1111.5 382.3C1113.13 386.24 1114.77 392.1 1116.4 392.1C1118.03 392.1 1119.67 386.4 1121.3 386.4C1123.2 386.4 1125.1 391.3 1127 391.3C1128.27 391.3 1129.53 391.29 1130.8 390.6C1132.33 389.76 1133.87 387.14 1135.4 386.4C1137.2 385.53 1139 385.71 1140.8 385.5C1143.83 385.14 1146.87 384.6 1149.9 384.6C1152.3 384.6 1154.7 386.61 1157.1 387.3C1160.1 388.16 1163.1 389.1 1166.1 389.1C1168.2 389.1 1170.3 387.9 1172.4 387.9C1174.5 387.9 1176.6 389.34 1178.7 390C1181.73 390.96 1184.77 392 1187.8 392.7C1191.4 393.53 1195 393.96 1198.6 394.5C1203.1 395.18 1207.6 395.7 1212.1 396.3" fill="none" stroke="#33ffff" stroke-width="1.25" stroke-linejoin="round" stroke-linecap="round"/>
<path d="M797.8 95.03C798.87 96.76 799.93 96.96 801 100.2C801.6 102.02 802.2 105.38 802.8 108.22C803.53 111.69 804.27 115.35 805 119.24C805.73 123.12 806.47 125.43 807.2 131.53C807.67 135.42 808.13 143.1 808.6 147.01C809.07 150.91 809.53 153.98 810 154.98C811.07 157.27 812.13 156.59 813.2 157.42C814.2 158.19 815.2 158.59 816.2 162.09C816.83 164.3 817.47 172.4 818.1 172.4C818.77 172.4 819.43 169.85 820.1 169.19C820.8 168.5 821.5 168.59 822.2 168.41C823.27 168.13 824.33 167.92 825.4 167.92C826.23 167.92 827.07 169.39 827.9 170.84C828.7 172.24 829.5 174.6 830.3 176.39C831.4 178.84 832.5 181.64 833.6 183.49C834.67 185.29 835.73 186.48 836.8 187.38C837.9 188.31 839 188.77 840.1 188.94C841.43 189.15 842.77 188.97 844.1 189.82C844.9 190.33 845.7 194.13 846.5 196.14C847.6 198.9 848.7 202.53 849.8 204.02C850.87 205.48 851.93 205.02 853 205.58C853.83 206.02 854.67 205.64 855.5 207.14C856.3 208.57 857.1 214.24 857.9 214.24C858.73 214.24 859.57 211.13 860.4 210.35C861.2 209.6 862 209.57 862.8 209.57C863.6 209.57 864.4 209.88 865.2 213.46C865.63 215.4 866.07 223 866.5 223C867.27 223 868.03 223 868.8 219.79C869.5 216.85 870.2 206.37 870.9 199.26C871.3 195.19 871.7 187.37 872.1 186.61C873.07 184.77 874.03 185.89 875 183.88C875.97 181.87 876.93 161.54 877.9 150.12C879.07 136.34 880.23 108.18 881.4 108.18C881.8 108.18 882.2 110.64 882.6 113.83C883.3 119.4 884 128.68 884.7 137.37C885.53 147.72 886.37 171.43 887.2 171.43C887.87 171.43 888.53 102.63 889.2 101.57C890.3 99.81 891.4 99.81 892.5 99.81C893.4 99.81 894.3 105.65 895.2 108.57C896.1 111.49 897 112.53 897.9 117.33C898.8 122.13 899.7 127.68 900.6 137.37C901.2 143.83 901.8 162.77 902.4 162.77C903.37 162.77 904.33 162.22 905.3 158.58C906.77 153.07 908.23 142.11 909.7 131.83C909.9 130.42 910.1 127.06 910.3 127.06C911.23 127.06 912.17 131.44 913.1 131.44C914.3 131.44 915.5 129.69 916.7 129.69C917.6 129.69 918.5 130.95 919.4 130.95C920.3 130.95 921.2 130.56 922.1 130.56C922.7 130.56 923.3 138.62 923.9 147.1C924.33 153.23 924.77 164.05 925.2 171.91C926.13 188.85 927.07 200.56 928 220.08C928.57 231.92 929.13 261.92 929.7 261.92C930.3 261.92 930.9 246.67 931.5 239.54C932.5 227.65 933.5 213.19 934.5 205.48C935.63 196.75 936.77 194.8 937.9 191.67C939.13 188.25 940.37 186.22 941.6 186.22C942.87 186.22 944.13 186.65 945.4 187.97C946.67 189.28 947.93 192.46 949.2 194.1C950.47 195.74 951.73 196.56 953 197.8C954.27 199.03 955.53 198.83 956.8 201.49C958.07 204.15 959.33 209.67 960.6 213.75C961.87 217.84 963.13 221.5 964.4 226.01C965.67 230.52 966.93 232.58 968.2 240.8C968.87 245.13 969.53 248.12 970.2 259C971.23 275.86 972.27 331.97 973.3 331.97C974.03 331.97 974.77 294.2 975.5 288.19C976.3 281.63 977.1 282.33 977.9 281.57C979.43 280.11 980.97 280.11 982.5 280.11C984.03 280.11 985.57 281.57 987.1 281.57C988.63 281.57 990.17 271.83 991.7 268.14C993.53 263.73 995.37 257.73 997.2 257.73C998.43 257.73 999.67 258.32 1000.9 262.21C1002.27 266.52 1003.63 283.13 1005 283.13C1006.7 283.13 1008.4 268.14 1010.1 268.14C1012 268.14 1013.9 281.62 1015.8 291.69C1017.7 301.76 1019.6 315.89 1021.5 328.57C1023.47 341.69 1025.43 369.14 1027.4 369.14C1028.6 369.14 1029.8 361.65 1031 358.05C1032.27 354.25 1033.53 349.95 1034.8 346.96C1036.7 342.46 1038.6 338.1 1040.5 336.64C1042.4 335.18 1044.3 335.18 1046.2 335.18C1048.73 335.18 1051.27 338.88 1053.8 338.88C1056.3 338.88 1058.8 337.68 1061.3 336.8C1063.4 336.06 1065.5 334.1 1067.6 334.1C1068.87 334.1 1070.13 336.44 1071.4 337.1C1072.6 337.72 1073.8 337.55 1075 338C1077.17 338.8 1079.33 339.72 1081.5 341.2C1083.67 342.68 1085.83 344.6 1088 346.9C1090.17 349.2 1092.33 352.74 1094.5 355C1096.13 356.7 1097.77 357.76 1099.4 359.1C1100.73 360.19 1102.07 360.3 1103.4 362.3C1104.77 364.35 1106.13 367.87 1107.5 371.3C1108.83 374.65 1110.17 379.38 1111.5 382.6C1113.13 386.54 1114.77 392.4 1116.4 392.4C1118.03 392.4 1119.67 386.7 1121.3 386.7C1123.2 386.7 1125.1 391.6 1127 391.6C1128.27 391.6 1129.53 391.59 1130.8 390.9C1132.33 390.06 1133.87 387.44 1135.4 386.7C1137.2 385.83 1139 386.01 1140.8 385.8C1143.83 385.44 1146.87 384.9 1149.9 384.9C1152.3 384.9 1154.7 386.91 1157.1 387.6C1160.1 388.46 1163.1 389.4 1166.1 389.4C1168.2 389.4 1170.3 388.2 1172.4 388.2C1174.5 388.2 1176.6 389.64 1178.7 390.3C1181.73 391.26 1184.77 392.3 1187.8 393C1191.4 393.83 1195 394.26 1198.6 394.8C1203.1 395.47 1207.6 396 1212.1 396.6" fill="none" stroke="#808000" stroke-width="1.25" stroke-linejoin="round" stroke-linecap="round"/>
<path d="M797.8 94.9C798.87 96.61 799.93 96.79 801 100.01C801.6 101.82 802.2 105.17 802.8 108C803.53 111.46 804.27 115.11 805 118.98C805.73 122.86 806.47 125.15 807.2 131.26C807.67 135.14 808.13 142.83 808.6 146.74C809.07 150.65 809.53 153.73 810 154.73C811.07 157.02 812.13 156.34 813.2 157.16C814.2 157.93 815.2 158.34 816.2 161.84C816.83 164.05 817.47 172.16 818.1 172.16C818.77 172.16 819.43 169.61 820.1 168.95C820.8 168.26 821.5 168.35 822.2 168.17C823.27 167.89 824.33 167.68 825.4 167.68C826.23 167.68 827.07 169.15 827.9 170.61C828.7 172 829.5 174.37 830.3 176.16C831.4 178.61 832.5 181.41 833.6 183.27C834.67 185.07 835.73 186.26 836.8 187.16C837.9 188.09 839 188.55 840.1 188.72C841.43 188.93 842.77 188.75 844.1 189.6C844.9 190.11 845.7 193.92 846.5 195.93C847.6 198.69 848.7 202.32 849.8 203.82C850.87 205.27 851.93 204.82 853 205.38C853.83 205.82 854.67 205.44 855.5 206.94C856.3 208.37 857.1 214.05 857.9 214.05C858.73 214.05 859.57 210.93 860.4 210.15C861.2 209.4 862 209.37 862.8 209.37C863.6 209.37 864.4 209.68 865.2 213.27C865.63 215.21 866.07 222.81 866.5 222.81C867.27 222.81 868.03 222.81 868.8 219.6C869.5 216.66 870.2 206.16 870.9 199.05C871.3 194.98 871.7 187.14 872.1 186.38C873.07 184.55 874.03 185.67 875 183.66C875.97 181.64 876.93 161.29 877.9 149.86C879.07 136.06 880.23 107.88 881.4 107.88C881.8 107.88 882.2 110.34 882.6 113.53C883.3 119.1 884 128.4 884.7 137.1C885.53 147.46 886.37 171.19 887.2 171.19C887.87 171.19 888.53 102.32 889.2 101.26C890.3 99.5 891.4 99.5 892.5 99.5C893.4 99.5 894.3 105.35 895.2 108.27C896.1 111.19 897 112.23 897.9 117.03C898.8 121.84 899.7 127.4 900.6 137.1C901.2 143.57 901.8 162.52 902.4 162.52C903.37 162.52 904.33 161.97 905.3 158.33C906.77 152.81 908.23 141.84 909.7 131.55C909.9 130.14 910.1 126.77 910.3 126.77C911.23 126.77 912.17 131.16 913.1 131.16C914.3 131.16 915.5 129.4 916.7 129.4C917.6 129.4 918.5 130.67 919.4 130.67C920.3 130.67 921.2 130.28 922.1 130.28C922.7 130.28 923.3 138.35 923.9 146.84C924.33 152.97 924.77 163.81 925.2 171.68C926.13 188.63 927.07 200.36 928 219.89C928.57 231.75 929.13 261.77 929.7 261.77C930.3 261.77 930.9 246.51 931.5 239.37C932.5 227.46 933.5 213 934.5 205.28C935.63 196.54 936.77 194.59 937.9 191.45C939.13 188.03 940.37 185.99 941.6 185.99C942.87 185.99 944.13 186.43 945.4 187.75C946.67 189.06 947.93 192.24 949.2 193.88C950.47 195.52 951.73 196.35 953 197.58C954.27 198.82 955.53 198.62 956.8 201.29C958.07 203.95 959.33 209.47 960.6 213.56C961.87 217.65 963.13 221.32 964.4 225.83C965.67 230.34 966.93 232.4 968.2 240.64C968.87 244.97 969.53 247.96 970.2 258.85C971.23 275.73 972.27 331.9 973.3 331.9C974.03 331.9 974.77 294.09 975.5 288.07C976.3 281.51 977.1 282.21 977.9 281.45C979.43 279.99 980.97 279.99 982.5 279.99C984.03 279.99 985.57 281.45 987.1 281.45C988.63 281.45 990.17 271.7 991.7 268C993.53 263.59 995.37 257.58 997.2 257.58C998.43 257.58 999.67 258.17 1000.9 262.06C1002.27 266.38 1003.63 283 1005 283C1006.7 283 1008.4 268 1010.1 268C1012 268 1013.9 281.49 1015.8 291.58C1017.7 301.66 1019.6 315.8 1021.5 328.49C1023.47 341.63 1025.43 369.11 1027.4 369.11C1028.6 369.11 1029.8 361.61 1031 358C1032.27 354.2 1033.53 349.9 1034.8 346.9C1036.7 342.4 1038.6 338.04 1040.5 336.57C1042.4 335.11 1044.3 335.11 1046.2 335.11C1048.73 335.11 1051.27 338.81 1053.8 338.81C1056.3 338.81 1058.8 337.59 1061.3 336.7C1063.4 335.95 1065.5 334 1067.6 334C1068.87 334 1070.13 336.34 1071.4 337C1072.6 337.62 1073.8 337.45 1075 337.9C1077.17 338.7 1079.33 339.62 1081.5 341.1C1083.67 342.58 1085.83 344.5 1088 346.8C1090.17 349.1 1092.33 352.64 1094.5 354.9C1096.13 356.6 1097.77 357.66 1099.4 359C1100.73 360.09 1102.07 360.2 1103.4 362.2C1104.77 364.25 1106.13 367.77 1107.5 371.2C1108.83 374.55 1110.17 379.28 1111.5 382.5C1113.13 386.44 1114.77 392.3 1116.4 392.3C1118.03 392.3 1119.67 386.6 1121.3 386.6C1123.2 386.6 1125.1 391.5 1127 391.5C1128.27 391.5 1129.53 391.49 1130.8 390.8C1132.33 389.96 1133.87 387.34 1135.4 386.6C1137.2 385.73 1139 385.91 1140.8 385.7C1143.83 385.34 1146.87 384.8 1149.9 384.8C1152.3 384.8 1154.7 386.81 1157.1 387.5C1160.1 388.36 1163.1 389.3 1166.1 389.3C1168.2 389.3 1170.3 388.1 1172.4 388.1C1174.5 388.1 1176.6 389.54 1178.7 390.2C1181.73 391.16 1184.77 392.2 1187.8 392.9C1191.4 393.73 1195 394.16 1198.6 394.7C1203.1 395.38 1207.6 395.9 1212.1 396.5" fill="none" stroke="#800080" stroke-width="1.25" stroke-linejoin="round" stroke-linecap="round"/>
<path d="M797.8 97.13C798.87 99.16 799.93 99.68 801 103.22C801.6 105.21 802.2 108.74 802.8 111.73C803.53 115.39 804.27 119.24 805 123.29C805.73 127.33 806.47 129.9 807.2 136C807.67 139.88 808.13 147.37 808.6 151.22C809.07 155.06 809.53 158.08 810 159.06C811.07 161.32 812.13 160.65 813.2 161.46C814.2 162.21 815.2 162.61 816.2 166.05C816.83 168.22 817.47 176.19 818.1 176.19C818.77 176.19 819.43 173.68 820.1 173.04C820.8 172.35 821.5 172.45 822.2 172.27C823.27 172 824.33 171.79 825.4 171.79C826.23 171.79 827.07 173.24 827.9 174.66C828.7 176.03 829.5 178.36 830.3 180.12C831.4 182.53 832.5 185.28 833.6 187.1C834.67 188.87 835.73 190.05 836.8 190.93C837.9 191.84 839 192.3 840.1 192.46C841.43 192.66 842.77 192.49 844.1 193.32C844.9 193.83 845.7 197.57 846.5 199.54C847.6 202.26 848.7 205.82 849.8 207.3C850.87 208.72 851.93 208.28 853 208.83C853.83 209.26 854.67 208.89 855.5 210.36C856.3 211.77 857.1 217.34 857.9 217.34C858.73 217.34 859.57 214.29 860.4 213.52C861.2 212.78 862 212.75 862.8 212.75C863.6 212.75 864.4 213.05 865.2 216.58C865.63 218.49 866.07 225.96 866.5 225.96C867.27 225.96 868.03 225.96 868.8 222.8C869.5 219.92 870.2 209.6 870.9 202.61C871.3 198.61 871.7 190.91 872.1 190.17C873.07 188.36 874.03 189.47 875 187.49C875.97 185.51 876.93 165.51 877.9 154.28C879.07 140.72 880.23 113.03 881.4 113.03C881.8 113.03 882.2 115.45 882.6 118.58C883.3 124.06 884 130.29 884.7 141.74C885.53 155.38 886.37 196 887.2 196C887.87 196 888.53 107.57 889.2 106.52C890.3 104.8 891.4 104.8 892.5 104.8C893.4 104.8 894.3 110.54 895.2 113.41C896.1 116.29 897 117.31 897.9 122.03C898.8 126.75 899.7 132.21 900.6 141.74C901.2 148.09 901.8 166.72 902.4 166.72C903.37 166.72 904.33 166.18 905.3 162.6C906.77 157.18 908.23 146.4 909.7 136.29C909.9 134.91 910.1 131.6 910.3 131.6C911.23 131.6 912.17 135.9 913.1 135.9C914.3 135.9 915.5 134.18 916.7 134.18C917.6 134.18 918.5 135.43 919.4 135.43C920.3 135.43 921.2 135.04 922.1 135.04C922.7 135.04 923.3 142.97 923.9 151.31C924.33 157.34 924.77 167.98 925.2 175.71C926.13 192.37 927.07 201.76 928 223.09C928.57 236.03 929.13 272 929.7 272C930.3 272 930.9 250.54 931.5 242.23C932.5 228.37 933.5 216.31 934.5 208.73C935.63 200.14 936.77 198.23 937.9 195.14C939.13 191.78 940.37 189.78 941.6 189.78C942.87 189.78 944.13 190.21 945.4 191.51C946.67 192.8 947.93 195.92 949.2 197.53C950.47 199.15 951.73 199.96 953 201.17C954.27 202.38 955.53 202.19 956.8 204.81C958.07 207.42 959.33 212.85 960.6 216.87C961.87 220.89 963.13 224.49 964.4 228.92C965.67 233.36 966.93 235.38 968.2 243.47C968.87 247.73 969.53 249.39 970.2 261.37C971.23 279.93 972.27 345 973.3 345C974.03 345 974.77 296.01 975.5 290.08C976.3 283.61 977.1 284.28 977.9 283.57C979.43 282.21 980.97 282.13 982.5 282.13C984.03 282.13 985.57 283.57 987.1 283.57C988.63 283.57 990.17 273.99 991.7 270.36C993.53 266.02 995.37 260.12 997.2 260.12C998.43 260.12 999.67 260.7 1000.9 264.52C1002.27 268.77 1003.63 285.1 1005 285.1C1006.7 285.1 1008.4 270.36 1010.1 270.36C1012 270.36 1013.9 283.62 1015.8 293.52C1017.7 303.43 1019.6 314.54 1021.5 329.79C1023.47 345.58 1025.43 387 1027.4 387C1028.6 387 1029.8 365.21 1031 358.79C1032.27 352.01 1033.53 350.82 1034.8 347.88C1036.7 343.46 1038.6 339.17 1040.5 337.73C1042.4 336.3 1044.3 336.3 1046.2 336.3C1048.73 336.3 1051.27 339 1053.8 339.94C1056.3 340.86 1058.8 341.92 1061.3 341.92C1063.4 341.92 1065.5 339.29 1067.6 339.29C1068.87 339.29 1070.13 341.67 1071.4 342.34C1072.6 342.98 1073.8 342.83 1075 343.29C1077.17 344.12 1079.33 345.06 1081.5 346.57C1083.67 348.08 1085.83 350.02 1088 352.35C1090.17 354.68 1092.33 358.25 1094.5 360.53C1096.13 362.25 1097.77 363.28 1099.4 364.69C1100.73 365.84 1102.07 366.09 1103.4 368.2C1104.77 370.36 1106.13 374.01 1107.5 377.56C1108.83 381.03 1110.17 385.88 1111.5 389.21C1113.13 393.3 1114.77 399.45 1116.4 399.45C1118.03 399.45 1119.67 393.63 1121.3 393.63C1123.2 393.63 1125.1 398.31 1127 398.31C1128.27 398.31 1129.53 398.21 1130.8 397.46C1132.33 396.56 1133.87 393.92 1135.4 393.09C1137.2 392.12 1139 392.35 1140.8 392.08C1143.83 391.64 1146.87 391 1149.9 391C1152.3 391 1154.7 392.92 1157.1 393.56C1160.1 394.36 1163.1 395.18 1166.1 395.18C1168.2 395.18 1170.3 393.85 1172.4 393.85C1174.5 393.85 1176.6 395.29 1178.7 395.98C1181.73 396.98 1184.77 398.11 1187.8 398.88C1191.4 399.79 1195 400.29 1198.6 400.91C1203.1 401.68 1207.6 402.3 1212.1 403" fill="none" stroke="#ff40ff" stroke-width="1.25" stroke-linejoin="round" stroke-linecap="round"/>
<path d="M797.8 98.57C798.87 100.81 799.93 101.56 801 105.3C801.6 107.4 802.2 111.04 802.8 114.14C803.53 117.93 804.27 121.92 805 126.07C805.73 130.23 806.47 132.96 807.2 139.07C807.67 142.95 808.13 150.31 808.6 154.11C809.07 157.91 809.53 160.89 810 161.87C811.07 164.09 812.13 163.43 813.2 164.23C814.2 164.98 815.2 165.38 816.2 168.77C816.83 170.92 817.47 178.8 818.1 178.8C818.77 178.8 819.43 176.32 820.1 175.68C820.8 175.01 821.5 175.1 822.2 174.92C823.27 174.65 824.33 174.45 825.4 174.45C826.23 174.45 827.07 175.88 827.9 177.29C828.7 178.64 829.5 180.94 830.3 182.68C831.4 185.07 832.5 187.78 833.6 189.59C834.67 191.33 835.73 192.49 836.8 193.37C837.9 194.27 839 194.72 840.1 194.88C841.43 195.08 842.77 194.91 844.1 195.73C844.9 196.23 845.7 199.93 846.5 201.88C847.6 204.57 848.7 208.09 849.8 209.55C850.87 210.96 851.93 210.51 853 211.06C853.83 211.49 854.67 211.12 855.5 212.57C856.3 213.97 857.1 219.48 857.9 219.48C858.73 219.48 859.57 216.46 860.4 215.69C861.2 214.96 862 214.94 862.8 214.94C863.6 214.94 864.4 214.94 865.2 218.72C865.63 220.77 866.07 237 866.5 237C867.27 237 868.03 230.54 868.8 224.87C869.5 219.7 870.2 211.82 870.9 204.91C871.3 200.96 871.7 193.35 872.1 192.61C873.07 190.83 874.03 191.92 875 189.96C875.97 188.01 876.93 168.24 877.9 157.14C879.07 143.74 880.23 116.36 881.4 116.36C881.8 116.36 882.2 118.76 882.6 121.85C883.3 127.27 884 132.28 884.7 144.74C885.53 159.58 886.37 206.5 887.2 206.5C887.87 206.5 888.53 110.96 889.2 109.93C890.3 108.23 891.4 108.23 892.5 108.23C893.4 108.23 894.3 113.91 895.2 116.74C896.1 119.58 897 120.59 897.9 125.26C898.8 129.92 899.7 135.32 900.6 144.74C901.2 151.03 901.8 169.44 902.4 169.44C903.37 169.44 904.33 168.9 905.3 165.37C906.77 160 908.23 149.35 909.7 139.35C909.9 137.99 910.1 134.72 910.3 134.72C911.23 134.72 912.17 138.97 913.1 138.97C914.3 138.97 915.5 137.27 916.7 137.27C917.6 137.27 918.5 138.5 919.4 138.5C920.3 138.5 921.2 138.12 922.1 138.12C922.7 138.12 923.3 145.96 923.9 154.2C924.33 160.16 924.77 170.68 925.2 178.33C926.13 194.79 927.07 203.94 928 225.15C928.57 238.03 929.13 274 929.7 274C930.3 274 930.9 252.37 931.5 244.07C932.5 230.24 933.5 218.46 934.5 210.96C935.63 202.47 936.77 200.58 937.9 197.53C939.13 194.21 940.37 192.23 941.6 192.23C942.87 192.23 944.13 192.66 945.4 193.94C946.67 195.21 947.93 198.3 949.2 199.9C950.47 201.49 951.73 202.29 953 203.49C954.27 204.69 955.53 204.5 956.8 207.09C958.07 209.67 959.33 215.03 960.6 219.01C961.87 222.98 963.13 226.54 964.4 230.93C965.67 235.31 966.93 237.31 968.2 245.3C968.87 249.51 969.53 250.8 970.2 262.99C971.23 281.9 972.27 349 973.3 349C974.03 349 974.77 297.24 975.5 291.37C976.3 284.98 977.1 285.6 977.9 284.94C979.43 283.67 980.97 283.52 982.5 283.52C984.03 283.52 985.57 284.94 987.1 284.94C988.63 284.94 990.17 275.47 991.7 271.89C993.53 267.6 995.37 261.77 997.2 261.77C998.43 261.77 999.67 262.33 1000.9 266.12C1002.27 270.31 1003.63 286.46 1005 286.46C1006.7 286.46 1008.4 271.89 1010.1 271.89C1012 271.89 1013.9 284.99 1015.8 294.78C1017.7 304.57 1019.6 316.15 1021.5 330.63C1023.47 345.63 1025.43 383.5 1027.4 383.5C1028.6 383.5 1029.8 365.03 1031 359.3C1032.27 353.24 1033.53 351.42 1034.8 348.51C1036.7 344.15 1038.6 339.9 1040.5 338.49C1042.4 337.07 1044.3 337.07 1046.2 337.07C1048.73 337.07 1051.27 340.66 1053.8 340.66C1056.3 340.66 1058.8 340.66 1061.3 340.38C1063.4 340.15 1065.5 337.61 1067.6 337.61C1068.87 337.61 1070.13 339.92 1071.4 340.56C1072.6 341.17 1073.8 340.98 1075 341.41C1077.17 342.19 1079.33 343.07 1081.5 344.53C1083.67 345.99 1085.83 347.88 1088 350.15C1090.17 352.42 1092.33 355.94 1094.5 358.17C1096.13 359.85 1097.77 360.94 1099.4 362.21C1100.73 363.24 1102.07 363.21 1103.4 365.1C1104.77 367.03 1106.13 370.43 1107.5 373.74C1108.83 376.97 1110.17 381.59 1111.5 384.69C1113.13 388.48 1114.77 394.05 1116.4 394.05C1118.03 394.05 1119.67 388.25 1121.3 388.25C1123.2 388.25 1125.1 393.09 1127 393.09C1128.27 393.09 1129.53 393.06 1130.8 392.35C1132.33 391.5 1133.87 388.9 1135.4 388.11C1137.2 387.18 1139 387.39 1140.8 387.15C1143.83 386.74 1146.87 386.15 1149.9 386.15C1152.3 386.15 1154.7 388.11 1157.1 388.78C1160.1 389.61 1163.1 390.48 1166.1 390.48C1168.2 390.48 1170.3 389.22 1172.4 389.22C1174.5 389.22 1176.6 390.61 1178.7 391.25C1181.73 392.17 1184.77 393.18 1187.8 393.85C1191.4 394.65 1195 395.04 1198.6 395.54C1203.1 396.17 1207.6 396.65 1212.1 397.2" fill="none" stroke="#ff0000" stroke-width="1.25" stroke-linejoin="round" stroke-linecap="round"/>
<rect x="1046.3" y="32.5" width="192.9" height="243.3" fill="#fff" stroke="#7a7a7a" stroke-width="1.1"/>
<line x1="1048.7" y1="47" x2="1096.9" y2="47" stroke="#555555" stroke-width="1.4"/>
<text transform="translate(1102.6,54.5) scale(1,1.06)" font-size="21.4">Original</text>
<line x1="1048.7" y1="73.65" x2="1096.9" y2="73.65" stroke="#ff8000" stroke-width="1.4"/>
<text transform="translate(1102.6,81.15) scale(1,1.06)" font-size="21.4">AWLP</text>
<line x1="1048.7" y1="100.3" x2="1096.9" y2="100.3" stroke="#3333ff" stroke-width="1.4"/>
<text transform="translate(1102.6,107.8) scale(1,1.06)" font-size="21.4">CNMF</text>
<line x1="1048.7" y1="126.95" x2="1096.9" y2="126.95" stroke="#1a8a1a" stroke-width="1.4"/>
<text transform="translate(1102.6,134.45) scale(1,1.06)" font-size="21.4">GIHS</text>
<line x1="1048.7" y1="153.6" x2="1096.9" y2="153.6" stroke="#33ffff" stroke-width="1.4"/>
<text transform="translate(1102.6,161.1) scale(1,1.06)" font-size="21.4">MTF_GLP</text>
<line x1="1048.7" y1="180.25" x2="1096.9" y2="180.25" stroke="#808000" stroke-width="1.4"/>
<text transform="translate(1102.6,187.75) scale(1,1.06)" font-size="21.4">HPF</text>
<line x1="1048.7" y1="206.9" x2="1096.9" y2="206.9" stroke="#800080" stroke-width="1.4"/>
<text transform="translate(1102.6,214.4) scale(1,1.06)" font-size="21.4">SFIM</text>
<line x1="1048.7" y1="233.55" x2="1096.9" y2="233.55" stroke="#ff40ff" stroke-width="1.4"/>
<text transform="translate(1102.6,241.05) scale(1,1.06)" font-size="21.4">DIP-HyperKite</text>
<line x1="1048.7" y1="260.2" x2="1096.9" y2="260.2" stroke="#ff0000" stroke-width="1.4"/>
<text transform="translate(1102.6,267.7) scale(1,1.06)" font-size="21.4">EDRN</text>
<path d="M794.66 435.2V427.6M794.66 17.3V24.9M852.21 435.2V427.6M852.21 17.3V24.9M909.77 435.2V427.6M909.77 17.3V24.9M967.32 435.2V427.6M967.32 17.3V24.9M1024.88 435.2V427.6M1024.88 17.3V24.9M1082.43 435.2V427.6M1082.43 17.3V24.9M1139.99 435.2V427.6M1139.99 17.3V24.9M1197.54 435.2V427.6M1197.54 17.3V24.9M765.88 435.2V431.4M765.88 17.3V21.1M823.43 435.2V431.4M823.43 17.3V21.1M880.99 435.2V431.4M880.99 17.3V21.1M938.54 435.2V431.4M938.54 17.3V21.1M996.1 435.2V431.4M996.1 17.3V21.1M1053.66 435.2V431.4M1053.66 17.3V21.1M1111.21 435.2V431.4M1111.21 17.3V21.1M1168.77 435.2V431.4M1168.77 17.3V21.1M1226.32 435.2V431.4M1226.32 17.3V21.1M737.1 403.05H744.7M1255.1 403.05H1247.5M737.1 338.76H744.7M1255.1 338.76H1247.5M737.1 274.47H744.7M1255.1 274.47H1247.5M737.1 210.18H744.7M1255.1 210.18H1247.5M737.1 145.88H744.7M1255.1 145.88H1247.5M737.1 81.59H744.7M1255.1 81.59H1247.5M737.1 370.91H740.9M1255.1 370.91H1251.3M737.1 306.62H740.9M1255.1 306.62H1251.3M737.1 242.32H740.9M1255.1 242.32H1251.3M737.1 178.03H740.9M1255.1 178.03H1251.3M737.1 113.74H740.9M1255.1 113.74H1251.3M737.1 49.45H740.9M1255.1 49.45H1251.3" stroke="#262626" stroke-width="1.3" fill="none"/>
<rect x="737.1" y="17.3" width="518" height="417.9" fill="none" stroke="#262626" stroke-width="1.3"/>
<text transform="translate(737.1,457.5) scale(1,1.03)" text-anchor="middle" font-size="17.5" font-weight="bold">-20</text>
<text transform="translate(794.66,457.5) scale(1,1.03)" text-anchor="middle" font-size="17.5" font-weight="bold">0</text>
<text transform="translate(852.21,457.5) scale(1,1.03)" text-anchor="middle" font-size="17.5" font-weight="bold">20</text>
<text transform="translate(909.77,457.5) scale(1,1.03)" text-anchor="middle" font-size="17.5" font-weight="bold">40</text>
<text transform="translate(967.32,457.5) scale(1,1.03)" text-anchor="middle" font-size="17.5" font-weight="bold">60</text>
<text transform="translate(1024.88,457.5) scale(1,1.03)" text-anchor="middle" font-size="17.5" font-weight="bold">80</text>
<text transform="translate(1082.43,457.5) scale(1,1.03)" text-anchor="middle" font-size="17.5" font-weight="bold">100</text>
<text transform="translate(1139.99,457.5) scale(1,1.03)" text-anchor="middle" font-size="17.5" font-weight="bold">120</text>
<text transform="translate(1197.54,457.5) scale(1,1.03)" text-anchor="middle" font-size="17.5" font-weight="bold">140</text>
<text transform="translate(1255.1,457.5) scale(1,1.03)" text-anchor="middle" font-size="17.5" font-weight="bold">160</text>
<text transform="translate(728.1,408.75) scale(1,1.03)" text-anchor="end" font-size="17.5" font-weight="bold">0</text>
<text transform="translate(728.1,344.46) scale(1,1.03)" text-anchor="end" font-size="17.5" font-weight="bold">1000</text>
<text transform="translate(728.1,280.17) scale(1,1.03)" text-anchor="end" font-size="17.5" font-weight="bold">2000</text>
<text transform="translate(728.1,215.88) scale(1,1.03)" text-anchor="end" font-size="17.5" font-weight="bold">3000</text>
<text transform="translate(728.1,151.58) scale(1,1.03)" text-anchor="end" font-size="17.5" font-weight="bold">4000</text>
<text transform="translate(728.1,87.29) scale(1,1.03)" text-anchor="end" font-size="17.5" font-weight="bold">5000</text>
<text transform="translate(728.1,23) scale(1,1.03)" text-anchor="end" font-size="17.5" font-weight="bold">6000</text>
<text x="996.4" y="492.2" text-anchor="middle" font-size="22" font-weight="bold">Bands</text>
<text transform="translate(671.5,218.3) rotate(-90) scale(1,1.06)" text-anchor="middle" font-size="22" font-weight="bold">Radiation Value</text>
<text x="964.6" y="541.2" text-anchor="middle" font-size="25" fill="#383838">(<tspan font-weight="bold" fill="#000">b</tspan>)</text>
</g>
</svg></body></html>
